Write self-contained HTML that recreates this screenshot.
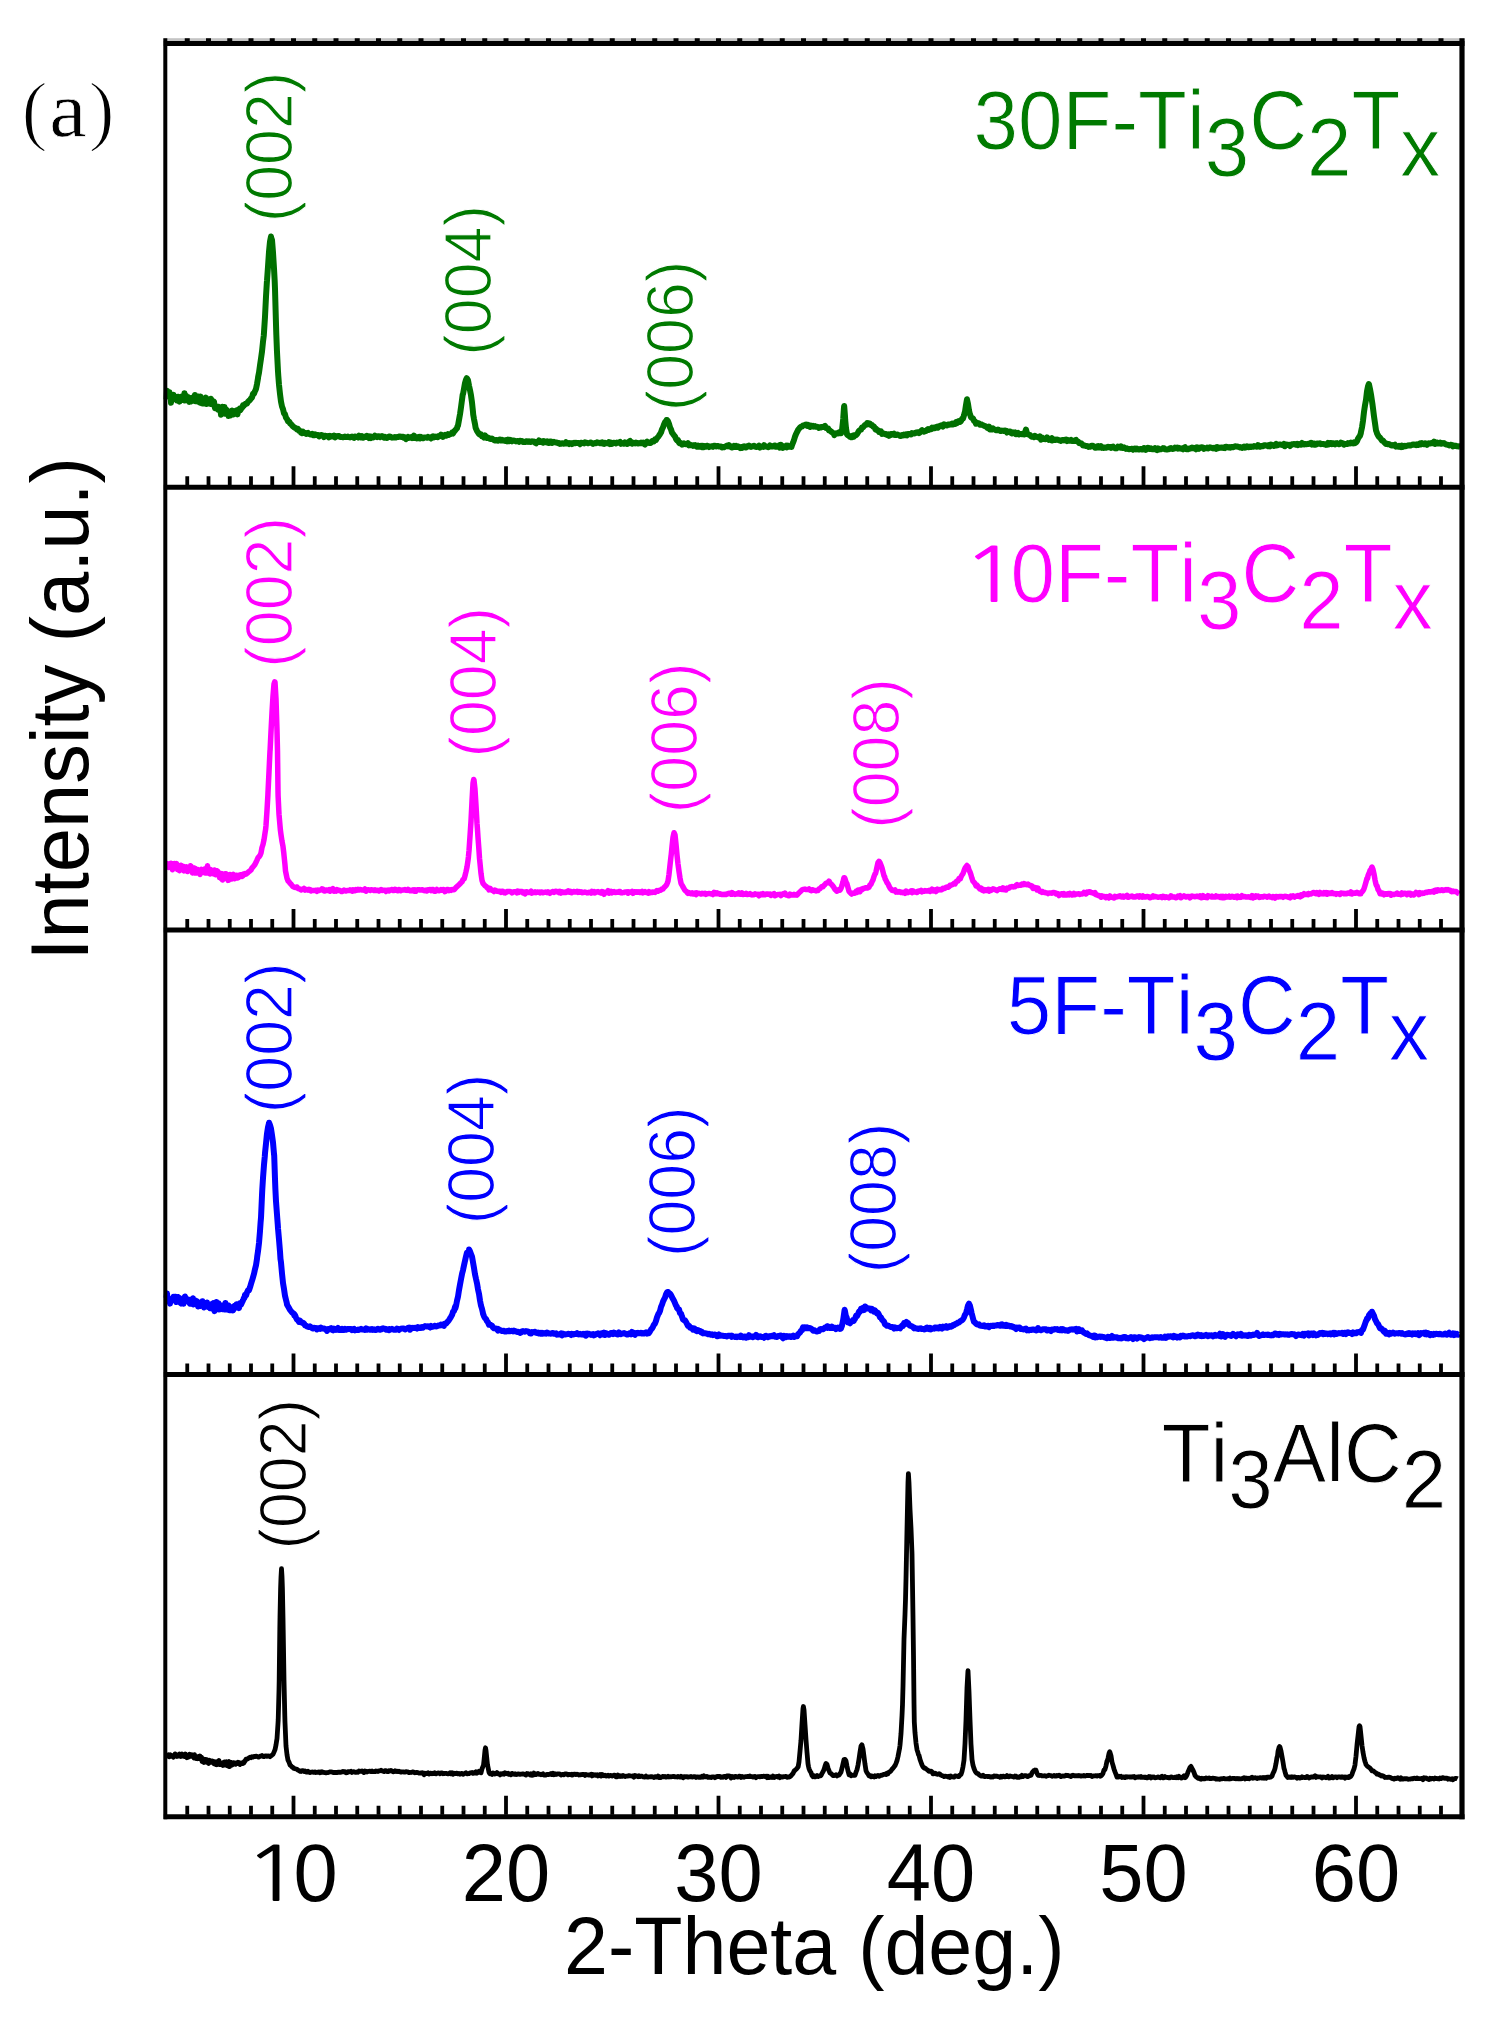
<!DOCTYPE html>
<html><head><meta charset="utf-8"><title>XRD patterns</title>
<style>html,body{margin:0;padding:0;background:#fff;}body{width:1485px;height:2021px;overflow:hidden;}svg{display:block;}text{font-kerning:none;font-feature-settings:"kern" 0;}</style>
</head><body>
<svg width="1485" height="2021" viewBox="0 0 1485 2021"><text transform="translate(243.00,1900.80) scale(1.3,1)" font-family="NanumGothic, 'Liberation Sans', sans-serif" font-size="76" fill="#000">1</text><text transform="translate(293.50,1900.80) scale(1,1.035)" font-family="'Liberation Sans', Arial, sans-serif" font-size="79.5" fill="#000">0</text><text transform="translate(506.00,1900.80) scale(1,1.035)" font-family="'Liberation Sans', Arial, sans-serif" font-size="79.5" fill="#000" text-anchor="middle">20</text><text transform="translate(718.50,1900.80) scale(1,1.035)" font-family="'Liberation Sans', Arial, sans-serif" font-size="79.5" fill="#000" text-anchor="middle">30</text><text transform="translate(931.00,1900.80) scale(1,1.035)" font-family="'Liberation Sans', Arial, sans-serif" font-size="79.5" fill="#000" text-anchor="middle">40</text><text transform="translate(1143.50,1900.80) scale(1,1.035)" font-family="'Liberation Sans', Arial, sans-serif" font-size="79.5" fill="#000" text-anchor="middle">50</text><text transform="translate(1356.00,1900.80) scale(1,1.035)" font-family="'Liberation Sans', Arial, sans-serif" font-size="79.5" fill="#000" text-anchor="middle">60</text><text transform="translate(564.00,1974.40) scale(1,1.035)" font-family="'Liberation Sans', Arial, sans-serif" font-size="79.0" fill="#000">2-Theta (deg.)</text><text transform="translate(87.60,960.60) rotate(-90) scale(1,1.035)" font-family="'Liberation Sans', Arial, sans-serif" font-size="79.5" fill="#000">Intensity (a.u.)</text><text x="21.6" y="136" font-family="'Liberation Serif', 'Times New Roman', serif" font-size="78.5" stroke="#fff" stroke-width="1.6" stroke-linejoin="round">(</text><text transform="translate(49.3,136) scale(1.07,1)" font-family="'Liberation Serif', 'Times New Roman', serif" font-size="78.5" stroke="#fff" stroke-width="0.7" stroke-linejoin="round">a</text><text x="88.5" y="136" font-family="'Liberation Serif', 'Times New Roman', serif" font-size="78.5" stroke="#fff" stroke-width="1.6" stroke-linejoin="round">)</text><text transform="translate(292.20,147.00) rotate(-90) scale(1,1.02)" font-family="'Liberation Sans', Arial, sans-serif" font-size="64.5" fill="#007a00" text-anchor="middle" stroke="#fff" stroke-width="1.2" stroke-linejoin="round">(002)</text><text transform="translate(490.70,280.40) rotate(-90) scale(1,1.02)" font-family="'Liberation Sans', Arial, sans-serif" font-size="64.5" fill="#007a00" text-anchor="middle" stroke="#fff" stroke-width="1.2" stroke-linejoin="round">(004)</text><text transform="translate(692.70,336.00) rotate(-90) scale(1,1.02)" font-family="'Liberation Sans', Arial, sans-serif" font-size="64.5" fill="#007a00" text-anchor="middle" stroke="#fff" stroke-width="1.2" stroke-linejoin="round">(006)</text><text transform="translate(291.60,592.40) rotate(-90) scale(1,1.02)" font-family="'Liberation Sans', Arial, sans-serif" font-size="64.5" fill="#ff00ff" text-anchor="middle" stroke="#fff" stroke-width="1.2" stroke-linejoin="round">(002)</text><text transform="translate(496.30,682.30) rotate(-90) scale(1,1.02)" font-family="'Liberation Sans', Arial, sans-serif" font-size="64.5" fill="#ff00ff" text-anchor="middle" stroke="#fff" stroke-width="1.2" stroke-linejoin="round">(004)</text><text transform="translate(696.70,737.90) rotate(-90) scale(1,1.02)" font-family="'Liberation Sans', Arial, sans-serif" font-size="64.5" fill="#ff00ff" text-anchor="middle" stroke="#fff" stroke-width="1.2" stroke-linejoin="round">(006)</text><text transform="translate(898.70,753.50) rotate(-90) scale(1,1.02)" font-family="'Liberation Sans', Arial, sans-serif" font-size="64.5" fill="#ff00ff" text-anchor="middle" stroke="#fff" stroke-width="1.2" stroke-linejoin="round">(008)</text><text transform="translate(291.60,1037.90) rotate(-90) scale(1,1.02)" font-family="'Liberation Sans', Arial, sans-serif" font-size="64.5" fill="#0000ff" text-anchor="middle" stroke="#fff" stroke-width="1.2" stroke-linejoin="round">(002)</text><text transform="translate(493.60,1149.00) rotate(-90) scale(1,1.02)" font-family="'Liberation Sans', Arial, sans-serif" font-size="64.5" fill="#0000ff" text-anchor="middle" stroke="#fff" stroke-width="1.2" stroke-linejoin="round">(004)</text><text transform="translate(694.60,1181.80) rotate(-90) scale(1,1.02)" font-family="'Liberation Sans', Arial, sans-serif" font-size="64.5" fill="#0000ff" text-anchor="middle" stroke="#fff" stroke-width="1.2" stroke-linejoin="round">(006)</text><text transform="translate(895.70,1198.00) rotate(-90) scale(1,1.02)" font-family="'Liberation Sans', Arial, sans-serif" font-size="64.5" fill="#0000ff" text-anchor="middle" stroke="#fff" stroke-width="1.2" stroke-linejoin="round">(008)</text><text transform="translate(306.30,1474.30) rotate(-90) scale(1,1.02)" font-family="'Liberation Sans', Arial, sans-serif" font-size="64.5" fill="#000000" text-anchor="middle" stroke="#fff" stroke-width="1.2" stroke-linejoin="round">(002)</text><text transform="translate(973.60,149.40) scale(1,1.035)" font-family="'Liberation Sans', Arial, sans-serif" font-size="80" fill="#007a00" stroke="#fff" stroke-width="0.9" stroke-linejoin="round"><tspan>30F-Ti</tspan><tspan dy="25.3">3</tspan><tspan dy="-25.3">C</tspan><tspan dy="25.3">2</tspan><tspan dy="-25.3">T</tspan><tspan dy="25.3">x</tspan></text><text transform="translate(961.10,601.60) scale(1.3,1)" font-family="NanumGothic, 'Liberation Sans', sans-serif" font-size="76" fill="#ff00ff">1</text><text transform="translate(1010.39,601.60) scale(1,1.035)" font-family="'Liberation Sans', Arial, sans-serif" font-size="80" fill="#ff00ff" stroke="#fff" stroke-width="0.9" stroke-linejoin="round"><tspan>0F-Ti</tspan><tspan dy="26.4">3</tspan><tspan dy="-26.4">C</tspan><tspan dy="26.4">2</tspan><tspan dy="-26.4">T</tspan><tspan dy="26.4">x</tspan></text><text transform="translate(1006.80,1034.00) scale(1,1.035)" font-family="'Liberation Sans', Arial, sans-serif" font-size="80" fill="#0000ff" stroke="#fff" stroke-width="0.9" stroke-linejoin="round"><tspan>5F-Ti</tspan><tspan dy="25.0">3</tspan><tspan dy="-25.0">C</tspan><tspan dy="25.0">2</tspan><tspan dy="-25.0">T</tspan><tspan dy="25.0">x</tspan></text><text transform="translate(1161.70,1481.50) scale(1,1.035)" font-family="'Liberation Sans', Arial, sans-serif" font-size="80" fill="#000000" stroke="#fff" stroke-width="0.9" stroke-linejoin="round"><tspan>Ti</tspan><tspan dy="25.6">3</tspan><tspan dy="-25.6">AlC</tspan><tspan dy="25.6">2</tspan></text><path d="M166.5,399.4 L167.0,390.7 L167.5,396.5 L168.0,394.7 L168.5,395.1 L169.0,395.6 L169.5,392.3 L170.0,395.8 L170.5,394.7 L171.0,402.7 L171.5,397.0 L172.0,395.9 L172.5,396.2 L173.0,395.5 L173.5,394.9 L174.0,396.3 L174.5,398.0 L175.0,396.7 L175.5,399.1 L176.0,397.0 L176.5,397.5 L177.0,400.5 L177.5,398.6 L178.0,396.7 L178.5,397.4 L179.0,398.9 L179.5,401.6 L180.0,397.5 L180.5,397.6 L181.0,400.0 L181.5,396.5 L182.0,397.7 L182.5,400.0 L183.0,399.5 L183.5,398.7 L184.0,399.8 L184.5,393.2 L185.0,400.6 L185.5,396.9 L186.0,395.6 L186.5,399.4 L187.0,400.3 L187.5,398.2 L188.0,397.0 L188.5,399.2 L189.0,399.1 L189.5,401.9 L190.0,400.7 L190.5,399.7 L191.0,401.5 L191.5,399.1 L192.0,397.8 L192.5,400.7 L193.0,400.7 L193.5,399.3 L194.0,398.3 L194.5,400.2 L195.0,395.1 L195.5,401.2 L196.0,400.9 L196.5,396.9 L197.0,400.2 L197.5,398.3 L198.0,401.6 L198.5,396.4 L199.0,398.6 L199.5,401.7 L200.0,402.6 L200.5,396.4 L201.0,399.6 L201.5,401.2 L202.0,399.4 L202.5,403.6 L203.0,398.4 L203.5,401.4 L204.0,398.7 L204.5,403.4 L205.0,400.7 L205.5,400.1 L206.0,397.6 L206.5,404.1 L207.0,402.3 L207.5,402.4 L208.0,403.2 L208.5,401.7 L209.0,399.9 L209.5,399.7 L210.0,399.8 L210.5,404.0 L211.0,398.7 L211.5,400.5 L212.0,401.3 L212.5,403.1 L213.0,404.6 L213.5,402.0 L214.0,401.7 L214.5,405.5 L215.0,408.2 L215.5,407.8 L216.0,407.1 L216.5,406.4 L217.0,407.9 L217.5,407.2 L218.0,409.6 L218.5,406.8 L219.0,408.9 L219.5,408.7 L220.0,410.3 L220.5,410.0 L221.0,414.7 L221.5,413.0 L222.0,413.2 L222.5,406.8 L223.0,410.2 L223.5,409.9 L224.0,412.3 L224.5,407.1 L225.0,413.7 L225.5,413.6 L226.0,409.2 L226.5,409.9 L227.0,410.3 L227.5,412.0 L228.0,413.2 L228.5,416.0 L229.0,411.7 L229.5,413.6 L230.0,412.5 L230.5,415.5 L231.0,413.6 L231.5,414.7 L232.0,410.4 L232.5,412.0 L233.0,410.9 L233.5,414.6 L234.0,413.2 L234.5,411.6 L235.0,411.3 L235.5,412.6 L236.0,410.8 L236.5,410.4 L237.0,412.1 L237.5,414.4 L238.0,410.9 L238.5,410.3 L239.0,409.3 L239.5,408.8 L240.0,410.3 L240.5,410.1 L241.0,408.7 L241.5,408.4 L242.0,407.6 L242.5,407.1 L243.0,405.3 L243.5,405.7 L244.0,405.7 L244.5,404.7 L245.0,404.5 L245.5,403.9 L246.0,403.7 L247.0,403.5 L248.0,401.8 L249.0,400.7 L250.0,400.0 L251.0,398.4 L252.0,397.5 L253.0,393.7 L254.0,393.8 L255.0,391.0 L255.5,390.1 L256.0,388.8 L257.0,384.1 L258.0,378.2 L258.1,377.1 L259.0,372.6 L260.0,365.3 L261.0,358.6 L262.0,351.5 L263.0,341.8 L263.8,335.3 L264.0,332.3 L265.0,316.9 L266.0,296.6 L266.9,281.8 L267.0,280.8 L268.0,266.7 L269.0,251.9 L270.0,241.6 L271.0,236.5 L271.1,237.5 L272.0,240.0 L273.0,252.6 L274.0,268.4 L274.7,281.4 L275.0,289.0 L276.0,324.3 L276.3,334.1 L277.0,351.9 L278.0,371.3 L278.3,375.9 L279.0,384.8 L280.0,394.0 L281.0,401.7 L282.0,406.5 L283.0,409.1 L284.0,413.4 L285.0,414.2 L286.0,417.7 L287.0,419.0 L288.0,421.2 L289.0,421.9 L289.3,421.8 L290.0,423.4 L291.0,424.0 L292.0,425.3 L293.0,426.4 L294.0,427.2 L295.0,427.9 L296.0,428.3 L297.0,429.4 L298.0,428.9 L299.0,430.7 L300.0,430.7 L301.0,432.6 L302.0,433.2 L302.8,431.5 L303.0,432.8 L304.0,433.0 L305.0,432.7 L306.0,433.9 L307.0,433.5 L308.0,432.9 L309.0,434.0 L310.0,434.3 L311.0,434.6 L312.0,433.9 L313.0,435.2 L314.0,435.3 L315.0,434.3 L316.0,434.7 L317.0,435.1 L318.0,434.9 L319.0,436.4 L320.0,435.6 L321.0,434.9 L322.0,435.1 L323.0,435.6 L324.0,437.1 L325.0,435.7 L326.0,436.0 L327.0,436.3 L328.0,436.0 L329.0,437.4 L330.0,435.8 L331.0,436.6 L332.0,436.3 L333.0,436.6 L334.0,435.6 L335.0,437.4 L336.0,436.3 L337.0,436.4 L338.0,435.9 L339.0,436.0 L340.0,436.8 L341.0,437.1 L342.0,437.0 L343.0,437.3 L344.0,437.0 L345.0,436.6 L346.0,437.1 L347.0,437.0 L348.0,436.6 L349.0,437.1 L350.0,437.4 L351.0,436.8 L352.0,436.5 L353.0,437.1 L354.0,437.9 L355.0,436.6 L356.0,436.7 L357.0,436.7 L358.0,437.5 L359.0,435.7 L360.0,437.0 L361.0,437.5 L362.0,436.3 L363.0,437.7 L364.0,437.2 L365.0,436.5 L366.0,437.0 L367.0,435.9 L368.0,436.5 L369.0,438.0 L370.0,436.4 L371.0,438.0 L372.0,436.9 L373.0,437.5 L374.0,437.0 L375.0,435.6 L376.0,436.6 L377.0,437.1 L378.0,436.3 L379.0,436.2 L380.0,437.2 L381.0,436.6 L382.0,436.0 L383.0,436.6 L384.0,437.6 L385.0,436.8 L386.0,437.6 L387.0,438.0 L388.0,437.1 L389.0,436.5 L390.0,436.4 L391.0,437.1 L392.0,437.7 L393.0,437.4 L394.0,437.5 L395.0,437.0 L396.0,437.4 L397.0,437.0 L398.0,437.1 L399.0,436.5 L400.0,436.4 L401.0,437.0 L402.0,436.7 L403.0,436.8 L404.0,437.8 L405.0,437.3 L406.0,439.1 L407.0,438.0 L408.0,437.0 L409.0,437.9 L410.0,437.7 L411.0,437.0 L412.0,438.1 L413.0,437.0 L414.0,435.6 L415.0,438.0 L416.0,437.1 L417.0,438.4 L418.0,437.1 L419.0,436.8 L420.0,438.4 L421.0,436.9 L422.0,437.6 L423.0,438.3 L424.0,437.5 L425.0,437.4 L426.0,437.4 L427.0,437.8 L428.0,436.8 L429.0,437.6 L430.0,437.5 L431.0,438.5 L432.0,436.8 L433.0,436.4 L434.0,437.3 L435.0,436.6 L436.0,436.9 L437.0,436.7 L438.0,437.2 L439.0,436.0 L440.0,436.2 L441.0,434.6 L442.0,435.5 L443.0,436.8 L444.0,435.4 L444.5,435.3 L445.0,434.9 L446.0,435.8 L447.0,435.3 L448.0,434.2 L449.0,434.9 L450.0,434.2 L451.0,434.1 L452.0,432.7 L453.0,433.5 L453.4,432.4 L454.0,431.7 L455.0,430.5 L456.0,429.3 L457.0,428.2 L457.4,426.6 L458.0,425.5 L459.0,419.9 L460.0,414.3 L461.0,407.4 L462.0,399.8 L462.7,394.5 L463.0,394.2 L464.0,388.7 L465.0,383.0 L466.0,379.7 L466.7,378.2 L467.0,378.4 L468.0,380.2 L469.0,385.6 L470.0,390.1 L471.0,395.3 L472.0,402.5 L473.0,412.0 L473.2,414.4 L474.0,419.1 L475.0,424.1 L475.6,427.7 L476.0,428.8 L477.0,430.9 L478.0,432.6 L479.0,434.0 L479.2,433.8 L480.0,434.6 L481.0,434.3 L482.0,436.3 L483.0,436.0 L484.0,437.5 L485.0,435.5 L486.0,437.5 L487.0,438.0 L488.0,437.5 L489.0,438.3 L490.0,438.8 L491.0,439.0 L492.0,438.6 L493.0,439.2 L494.0,440.1 L495.0,440.5 L496.0,440.0 L497.0,440.2 L497.9,440.3 L498.0,440.8 L499.0,439.7 L500.0,439.6 L501.0,440.5 L502.0,439.8 L503.0,440.2 L504.0,440.7 L505.0,441.0 L506.0,440.1 L507.0,441.2 L508.0,439.7 L509.0,441.2 L510.0,439.9 L511.0,440.2 L512.0,441.3 L513.0,440.7 L514.0,440.5 L515.0,440.8 L516.0,441.4 L517.0,441.1 L518.0,441.1 L519.0,441.8 L520.0,440.8 L521.0,440.9 L522.0,440.9 L523.0,442.0 L524.0,441.9 L525.0,442.1 L526.0,441.3 L527.0,441.3 L528.0,441.9 L529.0,441.2 L530.0,442.0 L531.0,442.0 L532.0,441.2 L533.0,441.6 L534.0,441.6 L535.0,442.7 L536.0,443.3 L537.0,441.7 L538.0,441.9 L539.0,440.5 L540.0,442.1 L541.0,442.0 L542.0,441.4 L543.0,442.6 L544.0,441.2 L545.0,442.1 L546.0,442.3 L547.0,441.5 L548.0,442.8 L549.0,443.0 L550.0,441.6 L551.0,441.6 L552.0,442.9 L553.0,442.5 L554.0,441.9 L555.0,442.4 L556.0,442.6 L557.0,442.6 L558.0,443.2 L559.0,443.0 L560.0,443.9 L561.0,443.7 L562.0,443.3 L563.0,443.5 L564.0,443.7 L565.0,443.4 L566.0,442.2 L567.0,443.5 L568.0,443.0 L569.0,444.0 L570.0,443.1 L571.0,443.3 L571.6,443.2 L572.0,444.0 L573.0,443.1 L574.0,442.8 L575.0,443.2 L576.0,442.7 L577.0,443.1 L578.0,443.0 L579.0,443.2 L580.0,444.2 L581.0,442.8 L582.0,443.0 L583.0,442.9 L584.0,443.4 L585.0,442.3 L586.0,442.6 L587.0,443.0 L588.0,443.3 L589.0,443.0 L590.0,442.7 L591.0,442.5 L592.0,443.3 L593.0,443.9 L594.0,443.2 L595.0,443.1 L596.0,443.3 L597.0,442.4 L598.0,442.8 L599.0,442.8 L600.0,443.2 L601.0,443.0 L602.0,442.3 L603.0,443.7 L604.0,444.0 L605.0,442.8 L606.0,443.2 L607.0,443.2 L608.0,443.5 L609.0,442.1 L610.0,444.0 L611.0,442.7 L612.0,443.8 L613.0,443.0 L614.0,442.8 L615.0,442.9 L616.0,443.5 L617.0,442.5 L618.0,442.8 L619.0,442.7 L620.0,442.0 L621.0,443.8 L622.0,443.3 L623.0,443.0 L624.0,443.7 L625.0,442.4 L626.0,443.0 L627.0,444.0 L628.0,443.6 L629.0,441.7 L630.0,441.0 L631.0,442.4 L632.0,443.6 L633.0,442.7 L634.0,442.9 L635.0,443.4 L636.0,442.5 L637.0,443.1 L638.0,443.5 L639.0,443.3 L640.0,443.2 L641.0,442.6 L642.0,443.3 L643.0,442.7 L644.0,443.8 L645.0,444.5 L646.0,442.6 L647.0,441.7 L648.0,442.7 L649.0,443.0 L650.0,443.1 L651.0,442.7 L652.0,441.2 L653.0,440.7 L654.0,441.3 L655.0,439.3 L656.0,439.9 L657.0,438.0 L658.0,437.2 L659.0,435.7 L660.0,434.1 L661.0,432.5 L662.0,429.3 L663.0,427.4 L664.0,424.4 L665.0,422.2 L666.0,421.2 L666.6,420.0 L667.0,419.9 L668.0,421.3 L669.0,423.9 L670.0,427.4 L671.0,429.3 L672.0,432.7 L673.0,433.9 L674.0,435.3 L675.0,436.4 L676.0,438.9 L677.0,440.5 L678.0,440.1 L679.0,442.6 L679.2,443.0 L680.0,442.6 L681.0,443.1 L682.0,444.6 L683.0,444.3 L684.0,443.3 L685.0,444.1 L686.0,444.2 L687.0,444.4 L688.0,443.3 L689.0,445.3 L690.0,444.6 L691.0,445.2 L692.0,445.2 L693.0,445.9 L694.0,445.3 L695.0,445.1 L696.0,446.0 L697.0,446.7 L698.0,445.7 L699.0,446.8 L700.0,446.3 L701.0,445.9 L702.0,447.2 L703.0,445.8 L704.0,447.0 L705.0,446.1 L706.0,446.7 L707.0,445.7 L708.0,446.0 L709.0,447.1 L710.0,446.6 L711.0,446.5 L712.0,446.2 L713.0,446.8 L714.0,445.7 L715.0,445.8 L716.0,446.4 L717.0,446.0 L718.0,446.1 L719.0,446.5 L720.0,446.4 L721.0,446.4 L722.0,447.5 L723.0,447.1 L724.0,447.2 L725.0,446.5 L726.0,446.2 L727.0,445.6 L728.0,446.3 L729.0,445.2 L730.0,446.1 L731.0,447.0 L732.0,447.5 L733.0,447.1 L734.0,446.0 L735.0,446.8 L736.0,446.0 L737.0,447.0 L738.0,446.4 L739.0,447.0 L740.0,448.0 L741.0,447.1 L742.0,447.9 L743.0,446.6 L744.0,446.3 L745.0,447.3 L746.0,447.5 L747.0,446.2 L748.0,446.5 L749.0,445.6 L750.0,446.4 L751.0,447.0 L752.0,446.4 L753.0,446.2 L754.0,445.7 L755.0,446.7 L756.0,447.0 L757.0,446.9 L758.0,446.7 L759.0,445.7 L760.0,447.6 L761.0,446.5 L762.0,446.4 L763.0,446.9 L764.0,445.2 L765.0,446.5 L766.0,446.4 L767.0,446.7 L768.0,447.3 L769.0,446.8 L770.0,445.4 L771.0,446.3 L772.0,446.6 L773.0,446.6 L774.0,445.7 L775.0,445.5 L776.0,446.8 L777.0,446.7 L778.0,446.5 L779.0,445.5 L780.0,447.6 L781.0,444.8 L782.0,446.3 L783.0,447.8 L784.0,446.4 L785.0,446.6 L786.0,445.8 L787.0,447.3 L788.0,445.7 L789.0,446.7 L790.0,446.6 L791.0,445.9 L791.4,447.0 L792.0,445.1 L793.0,442.7 L794.0,440.0 L795.0,436.7 L796.0,434.1 L797.0,432.2 L798.0,430.1 L799.0,428.7 L800.0,427.6 L801.0,426.7 L802.0,426.6 L803.0,425.4 L804.0,425.4 L805.0,424.9 L806.0,424.5 L807.0,425.7 L808.0,424.8 L809.0,425.7 L810.0,426.9 L811.0,425.6 L812.0,426.5 L813.0,425.8 L814.0,426.6 L815.0,426.1 L816.0,426.8 L817.0,426.7 L818.0,427.1 L819.0,428.0 L820.0,427.2 L821.0,427.4 L822.0,427.0 L823.0,426.9 L824.0,426.5 L825.0,425.9 L825.2,427.0 L826.0,428.1 L827.0,428.0 L828.0,428.3 L829.0,430.6 L830.0,430.5 L831.0,431.5 L832.0,432.2 L833.0,433.0 L834.0,433.8 L834.3,435.2 L835.0,433.9 L836.0,433.3 L837.0,433.5 L838.0,433.6 L839.0,432.5 L840.0,433.3 L841.0,433.3 L841.2,433.0 L842.0,430.3 L843.0,421.1 L843.2,419.0 L844.0,407.3 L844.2,406.0 L845.0,416.2 L845.2,420.1 L846.0,428.2 L847.0,434.3 L848.0,435.3 L849.0,435.8 L850.0,436.8 L851.0,437.2 L852.0,437.3 L852.7,436.3 L853.0,435.6 L854.0,436.5 L855.0,435.1 L856.0,435.1 L857.0,434.1 L858.0,432.5 L859.0,430.8 L860.0,430.0 L861.0,429.7 L862.0,427.4 L863.0,427.3 L864.0,426.1 L865.0,424.9 L866.0,424.9 L867.0,423.2 L867.5,424.2 L868.0,423.1 L869.0,423.4 L870.0,423.7 L871.0,425.2 L872.0,425.1 L873.0,426.5 L874.0,426.5 L875.0,428.5 L875.5,429.3 L876.0,428.6 L877.0,430.2 L878.0,430.3 L879.0,432.0 L880.0,431.5 L881.0,431.3 L882.0,433.9 L883.0,433.6 L884.0,433.6 L885.0,434.2 L886.0,433.9 L887.0,434.9 L888.0,434.4 L889.0,435.9 L890.0,435.4 L891.0,434.0 L892.0,434.1 L893.0,434.7 L894.0,433.8 L895.0,434.9 L896.0,435.0 L897.0,434.5 L898.0,434.7 L899.0,435.3 L900.0,435.9 L901.0,435.9 L902.0,435.0 L903.0,435.5 L904.0,434.5 L905.0,435.2 L906.0,434.3 L907.0,435.2 L908.0,433.9 L909.0,433.9 L910.0,434.3 L911.0,434.4 L912.0,433.0 L913.0,433.3 L914.0,433.5 L915.0,433.3 L916.0,432.4 L917.0,432.7 L918.0,432.3 L919.0,433.1 L920.0,432.3 L921.0,431.0 L922.0,430.2 L923.0,431.3 L924.0,431.7 L925.0,430.8 L926.0,430.9 L927.0,429.8 L928.0,429.0 L929.0,429.9 L930.0,429.2 L931.0,429.3 L932.0,427.7 L933.0,428.4 L934.0,427.6 L935.0,428.1 L936.0,427.0 L937.0,426.7 L937.4,426.6 L938.0,427.6 L939.0,426.6 L940.0,425.9 L941.0,425.5 L942.0,425.3 L943.0,426.5 L944.0,424.3 L945.0,424.7 L946.0,425.3 L947.0,425.4 L948.0,424.4 L949.0,424.7 L950.0,424.5 L951.0,424.4 L952.0,423.6 L953.0,424.4 L954.0,423.3 L955.0,423.9 L956.0,422.1 L957.0,423.1 L958.0,421.5 L959.0,421.0 L960.0,421.8 L960.3,420.8 L961.0,421.1 L962.0,418.9 L963.0,418.6 L964.0,415.4 L964.5,413.3 L965.0,411.8 L966.0,405.0 L967.0,399.2 L967.1,399.9 L968.0,404.0 L969.0,410.4 L969.8,414.0 L970.0,414.2 L971.0,417.3 L972.0,418.0 L973.0,418.5 L974.0,420.9 L975.0,421.4 L976.0,423.7 L977.0,423.2 L978.0,423.0 L979.0,423.3 L980.0,424.7 L981.0,424.2 L982.0,424.7 L983.0,425.3 L984.0,425.7 L985.0,426.1 L986.0,426.5 L987.0,427.6 L988.0,428.2 L989.0,426.6 L990.0,429.5 L991.0,428.4 L992.0,429.4 L993.0,428.5 L994.0,429.4 L994.6,429.5 L995.0,429.5 L996.0,430.2 L997.0,430.3 L998.0,429.5 L999.0,430.2 L1000.0,430.9 L1001.0,431.0 L1002.0,430.6 L1003.0,430.8 L1004.0,431.0 L1005.0,430.6 L1006.0,430.7 L1007.0,432.5 L1008.0,431.5 L1009.0,431.9 L1010.0,431.6 L1011.0,433.0 L1012.0,433.4 L1013.0,432.4 L1014.0,433.1 L1015.0,432.5 L1016.0,434.2 L1017.0,433.8 L1018.0,433.0 L1019.0,434.4 L1020.0,434.0 L1021.0,434.1 L1022.0,434.2 L1023.0,433.6 L1024.0,433.7 L1024.4,434.4 L1025.0,432.7 L1026.0,429.5 L1027.0,433.4 L1028.0,434.4 L1029.0,434.7 L1030.0,435.1 L1031.0,436.2 L1032.0,436.7 L1033.0,436.5 L1034.0,437.1 L1035.0,435.8 L1036.0,436.7 L1037.0,436.7 L1038.0,437.2 L1039.0,437.6 L1040.0,436.3 L1041.0,439.6 L1042.0,437.5 L1043.0,438.4 L1044.0,438.9 L1045.0,439.2 L1046.0,439.0 L1047.0,437.3 L1048.0,438.6 L1049.0,439.9 L1050.0,439.0 L1051.0,439.0 L1051.8,438.3 L1052.0,440.5 L1053.0,440.1 L1054.0,439.3 L1055.0,439.9 L1056.0,439.9 L1057.0,439.4 L1058.0,439.9 L1059.0,440.3 L1060.0,440.5 L1061.0,440.9 L1062.0,440.2 L1063.0,439.9 L1064.0,440.5 L1065.0,439.9 L1066.0,439.5 L1067.0,441.0 L1068.0,440.1 L1069.0,440.5 L1070.0,440.8 L1071.0,439.9 L1072.0,441.0 L1073.0,440.9 L1074.0,440.7 L1074.7,441.0 L1075.0,440.4 L1076.0,439.8 L1077.0,441.3 L1078.0,441.4 L1079.0,443.0 L1080.0,443.2 L1081.0,443.2 L1082.0,444.0 L1083.0,445.3 L1084.0,445.6 L1085.0,445.6 L1086.0,446.1 L1087.0,446.0 L1088.0,446.4 L1088.5,446.9 L1089.0,446.5 L1090.0,446.8 L1091.0,446.0 L1092.0,445.8 L1093.0,445.8 L1094.0,446.6 L1095.0,447.7 L1096.0,447.7 L1097.0,446.4 L1098.0,446.1 L1099.0,447.6 L1100.0,447.4 L1101.0,446.3 L1102.0,447.8 L1103.0,447.3 L1104.0,448.0 L1105.0,447.4 L1106.0,447.8 L1107.0,447.5 L1108.0,446.7 L1109.0,447.2 L1110.0,446.9 L1111.0,447.9 L1112.0,446.8 L1113.0,446.5 L1114.0,447.8 L1115.0,448.2 L1116.0,448.4 L1117.0,448.2 L1118.0,446.7 L1119.0,447.2 L1120.0,447.4 L1120.5,447.7 L1121.0,446.4 L1122.0,447.8 L1123.0,448.1 L1124.0,447.4 L1125.0,448.2 L1126.0,449.0 L1127.0,448.4 L1128.0,449.1 L1129.0,449.2 L1130.0,449.0 L1131.0,449.0 L1132.0,448.7 L1133.0,449.7 L1134.0,448.7 L1135.0,448.6 L1136.0,449.4 L1137.0,448.6 L1138.0,449.3 L1139.0,449.6 L1140.0,449.0 L1141.0,449.1 L1142.0,449.5 L1143.0,449.4 L1144.0,448.1 L1145.0,448.2 L1146.0,449.8 L1147.0,449.2 L1148.0,447.7 L1149.0,448.1 L1150.0,449.0 L1151.0,448.4 L1152.0,449.2 L1153.0,449.0 L1154.0,449.2 L1155.0,448.2 L1156.0,449.3 L1157.0,450.1 L1158.0,448.4 L1159.0,449.6 L1160.0,449.4 L1161.0,449.2 L1162.0,448.8 L1163.0,448.1 L1164.0,448.3 L1165.0,449.2 L1166.0,449.4 L1167.0,449.5 L1168.0,449.3 L1169.0,449.3 L1170.0,448.4 L1171.0,448.0 L1172.0,448.8 L1173.0,449.0 L1174.0,448.7 L1175.0,447.7 L1176.0,448.3 L1177.0,447.7 L1178.0,448.7 L1179.0,447.9 L1180.0,448.4 L1181.0,448.7 L1182.0,448.6 L1183.0,449.3 L1184.0,447.8 L1185.0,447.1 L1186.0,449.0 L1187.0,449.2 L1188.0,449.2 L1189.0,448.5 L1190.0,448.7 L1191.0,448.4 L1192.0,447.5 L1193.0,447.9 L1194.0,448.5 L1195.0,447.9 L1196.0,449.3 L1197.0,447.3 L1198.0,447.9 L1199.0,448.8 L1200.0,447.7 L1201.0,447.4 L1202.0,447.2 L1203.0,447.6 L1204.0,448.9 L1205.0,448.2 L1206.0,448.3 L1207.0,447.6 L1208.0,448.4 L1209.0,448.0 L1210.0,447.3 L1211.0,447.6 L1212.0,447.9 L1213.0,448.5 L1214.0,447.7 L1215.0,448.1 L1216.0,448.9 L1216.6,447.2 L1217.0,447.0 L1218.0,448.3 L1219.0,447.9 L1220.0,447.6 L1221.0,447.8 L1222.0,447.4 L1223.0,447.9 L1224.0,447.3 L1225.0,448.0 L1226.0,446.7 L1227.0,446.9 L1228.0,447.4 L1229.0,447.1 L1230.0,447.7 L1231.0,447.2 L1232.0,446.9 L1233.0,447.3 L1234.0,446.8 L1235.0,446.2 L1236.0,446.4 L1237.0,446.5 L1238.0,446.7 L1239.0,447.0 L1240.0,447.4 L1241.0,447.2 L1242.0,447.9 L1243.0,447.5 L1244.0,446.6 L1245.0,447.7 L1246.0,447.4 L1247.0,446.3 L1248.0,446.7 L1249.0,447.2 L1250.0,446.6 L1251.0,447.0 L1252.0,446.6 L1253.0,446.8 L1254.0,446.1 L1255.0,446.5 L1256.0,446.0 L1257.0,446.6 L1258.0,445.1 L1259.0,446.3 L1260.0,446.8 L1261.0,446.3 L1262.0,445.9 L1263.0,446.2 L1264.0,445.3 L1265.0,445.3 L1266.0,445.5 L1267.0,445.6 L1268.0,446.2 L1269.0,445.1 L1270.0,446.2 L1271.0,444.6 L1272.0,445.0 L1273.0,445.4 L1274.0,446.0 L1275.0,444.9 L1276.0,444.0 L1277.0,445.4 L1278.0,445.1 L1279.0,444.4 L1280.0,444.4 L1281.0,444.6 L1282.0,445.0 L1283.0,445.3 L1284.0,444.0 L1285.0,446.2 L1286.0,444.7 L1287.0,444.5 L1288.0,445.1 L1289.0,444.7 L1290.0,446.0 L1291.0,445.2 L1292.0,444.3 L1293.0,444.2 L1294.0,444.1 L1295.0,444.2 L1296.0,444.7 L1297.0,443.9 L1298.0,445.2 L1299.0,444.2 L1300.0,444.1 L1301.0,444.7 L1302.0,443.0 L1303.0,443.6 L1304.0,444.5 L1305.0,444.1 L1306.0,444.0 L1307.0,444.3 L1308.0,443.7 L1309.0,443.9 L1310.0,443.2 L1311.0,442.8 L1312.0,444.7 L1313.0,443.4 L1314.0,443.5 L1315.0,444.8 L1316.0,444.6 L1317.0,443.6 L1318.0,443.6 L1319.0,443.8 L1320.0,443.3 L1321.0,444.2 L1322.0,443.9 L1323.0,443.9 L1324.0,444.3 L1325.0,444.3 L1326.0,444.9 L1327.0,444.7 L1328.0,442.8 L1329.0,444.3 L1330.0,443.1 L1331.0,442.9 L1332.0,444.2 L1333.0,443.3 L1334.0,443.5 L1335.0,444.3 L1336.0,443.3 L1337.0,443.1 L1338.0,443.8 L1339.0,444.3 L1340.0,443.9 L1341.0,442.6 L1342.0,443.1 L1343.0,443.4 L1344.0,444.6 L1345.0,444.0 L1346.0,443.9 L1347.0,444.1 L1348.0,443.1 L1349.0,443.6 L1350.0,443.5 L1351.0,442.6 L1352.0,443.1 L1353.0,443.4 L1354.0,442.4 L1355.0,443.2 L1356.0,442.4 L1357.0,441.3 L1358.0,438.6 L1359.0,437.1 L1360.0,435.7 L1360.8,433.3 L1361.0,431.8 L1362.0,427.3 L1363.0,420.7 L1364.0,411.9 L1365.0,405.3 L1366.0,399.9 L1367.0,391.4 L1368.0,386.2 L1368.8,384.1 L1369.0,384.4 L1370.0,389.1 L1371.0,394.5 L1372.0,401.1 L1372.5,404.5 L1373.0,408.3 L1374.0,416.4 L1375.0,423.3 L1376.0,430.4 L1376.8,432.5 L1377.0,433.4 L1378.0,435.3 L1379.0,436.9 L1380.0,437.7 L1381.0,439.1 L1382.0,440.6 L1383.0,440.4 L1384.0,442.1 L1385.0,443.0 L1386.0,443.9 L1387.0,443.7 L1388.0,444.0 L1388.3,444.3 L1389.0,444.0 L1390.0,444.6 L1391.0,445.3 L1392.0,445.5 L1393.0,445.0 L1394.0,445.6 L1395.0,444.8 L1396.0,446.7 L1397.0,446.0 L1398.0,446.6 L1399.0,445.8 L1399.7,446.4 L1400.0,446.8 L1401.0,447.1 L1402.0,445.6 L1403.0,446.9 L1404.0,446.2 L1405.0,445.7 L1406.0,446.3 L1407.0,445.7 L1408.0,445.6 L1409.0,445.2 L1410.0,445.6 L1411.0,445.3 L1412.0,445.0 L1413.0,444.4 L1414.0,444.5 L1415.0,444.9 L1416.0,445.2 L1417.0,444.3 L1418.0,445.0 L1419.0,444.1 L1420.0,443.3 L1421.0,444.3 L1422.0,443.2 L1423.0,443.9 L1424.0,444.3 L1425.0,443.3 L1426.0,443.4 L1427.0,444.8 L1428.0,443.4 L1429.0,443.3 L1430.0,443.6 L1431.0,443.0 L1432.0,443.0 L1433.0,443.2 L1434.0,441.6 L1435.0,443.9 L1436.0,442.4 L1437.0,442.5 L1438.0,443.5 L1439.0,443.3 L1440.0,442.7 L1441.0,443.7 L1442.0,443.0 L1443.0,443.5 L1444.0,443.1 L1445.0,443.7 L1446.0,444.6 L1447.0,444.6 L1448.0,444.9 L1449.0,445.4 L1450.0,445.0 L1451.0,444.7 L1452.0,445.1 L1453.0,446.4 L1454.0,445.6 L1455.0,445.9 L1456.0,445.8 L1457.0,446.2 L1458.0,446.4 L1459.0,446.3 L1460.0,446.4" fill="none" stroke="#007000" stroke-width="6.0" stroke-linejoin="round"/><path d="M166.5,863.4 L167.0,863.4 L167.5,866.0 L168.0,866.8 L168.5,867.3 L169.0,865.7 L169.5,864.1 L170.0,867.1 L170.5,867.2 L171.0,863.2 L171.5,867.8 L172.0,867.5 L172.5,869.7 L173.0,864.4 L173.5,864.2 L174.0,868.3 L174.5,863.4 L175.0,865.6 L175.5,865.0 L176.0,865.2 L176.5,863.6 L177.0,867.0 L177.5,869.4 L178.0,868.5 L178.5,868.6 L179.0,867.1 L179.5,870.7 L180.0,869.0 L180.5,870.1 L181.0,865.2 L181.5,868.9 L182.0,866.1 L182.5,869.1 L182.9,868.9 L183.0,866.3 L183.5,868.9 L184.0,870.9 L184.5,869.7 L185.0,869.9 L185.5,867.2 L186.0,867.6 L186.5,866.8 L187.0,869.3 L187.5,871.5 L188.0,870.1 L188.5,869.3 L189.0,867.2 L189.5,870.3 L190.0,869.0 L190.5,865.8 L191.0,866.2 L191.5,869.0 L192.0,868.0 L192.5,873.0 L193.0,869.9 L193.5,867.9 L194.0,869.0 L194.5,873.1 L195.0,868.2 L195.5,871.6 L196.0,871.0 L196.5,873.0 L197.0,871.3 L197.5,869.5 L198.0,871.4 L198.5,870.5 L199.0,872.3 L199.5,870.3 L200.0,874.4 L200.5,870.4 L201.0,871.4 L201.5,869.4 L202.0,870.9 L202.5,870.7 L203.0,871.0 L203.5,872.5 L204.0,869.7 L204.5,869.1 L205.0,872.9 L205.5,870.3 L206.0,869.5 L206.5,873.1 L207.0,872.4 L207.5,865.7 L208.0,870.2 L208.5,872.4 L209.0,872.5 L209.5,870.0 L210.0,874.0 L210.5,869.5 L211.0,870.6 L211.5,871.3 L212.0,871.1 L212.5,872.7 L213.0,873.1 L213.5,871.1 L214.0,874.0 L214.5,870.0 L215.0,870.9 L215.5,874.7 L216.0,871.7 L216.5,873.6 L217.0,870.8 L217.5,871.2 L217.8,871.5 L218.0,872.2 L218.5,872.3 L219.0,874.2 L219.2,875.9 L219.5,877.4 L220.0,876.1 L220.5,877.8 L221.0,878.5 L221.5,874.7 L222.0,873.7 L222.5,879.9 L223.0,879.3 L223.5,876.9 L224.0,877.4 L224.5,874.9 L225.0,874.0 L225.5,877.3 L226.0,873.8 L226.5,878.5 L227.0,875.4 L227.5,877.2 L228.0,880.4 L228.5,880.3 L229.0,876.1 L229.5,878.7 L230.0,874.6 L230.5,875.5 L231.0,877.2 L231.5,879.0 L232.0,875.5 L232.5,877.4 L233.0,876.6 L233.5,874.4 L234.0,876.2 L234.5,878.7 L235.0,876.2 L235.5,877.0 L236.0,877.4 L236.5,875.2 L237.0,877.8 L237.5,878.0 L238.0,877.9 L238.5,877.5 L239.0,875.4 L239.5,875.2 L240.0,874.9 L240.5,874.7 L241.0,874.8 L241.5,876.3 L242.0,876.5 L242.5,874.7 L243.0,875.7 L243.5,874.1 L244.0,874.6 L244.5,874.1 L245.0,873.6 L245.5,874.3 L246.0,874.1 L247.0,873.3 L248.0,872.5 L249.0,871.4 L249.5,871.4 L250.0,870.7 L251.0,870.0 L252.0,867.8 L253.0,867.0 L254.0,865.6 L254.8,864.7 L255.0,864.3 L256.0,862.2 L257.0,860.1 L258.0,857.8 L259.0,856.8 L260.0,855.4 L261.0,852.9 L262.0,847.5 L263.0,844.5 L264.0,839.8 L265.0,833.2 L265.6,829.4 L266.0,825.4 L267.0,810.5 L267.9,795.0 L268.0,792.4 L269.0,771.8 L270.0,750.9 L270.1,750.1 L271.0,731.7 L272.0,712.7 L273.0,696.0 L274.0,684.1 L274.7,681.9 L275.0,682.1 L276.0,698.8 L277.0,730.4 L277.5,750.8 L278.0,790.6 L278.1,795.8 L279.0,814.2 L280.0,825.7 L280.4,830.2 L281.0,834.6 L282.0,841.3 L283.0,846.6 L283.8,853.2 L284.0,855.2 L285.0,865.0 L285.5,871.0 L286.0,873.4 L287.0,878.3 L287.5,879.4 L288.0,881.0 L289.0,881.7 L290.0,883.2 L291.0,884.1 L292.0,885.5 L293.0,886.6 L294.0,887.1 L295.0,887.4 L296.0,887.3 L297.0,887.0 L298.0,888.5 L299.0,888.7 L300.0,889.1 L301.0,889.9 L302.0,889.2 L303.0,889.4 L304.0,888.4 L305.0,890.1 L306.0,889.8 L307.0,889.4 L308.0,890.1 L309.0,889.3 L310.0,889.6 L311.0,891.0 L312.0,890.4 L313.0,890.5 L314.0,890.4 L315.0,890.4 L316.0,890.2 L317.0,891.3 L318.0,890.1 L319.0,890.5 L320.0,890.0 L321.0,889.9 L322.0,888.8 L323.0,889.1 L324.0,891.0 L325.0,891.0 L326.0,889.9 L327.0,890.2 L328.0,890.5 L329.0,889.7 L330.0,891.2 L331.0,889.6 L332.0,889.8 L333.0,888.7 L334.0,891.1 L335.0,890.3 L336.0,891.1 L337.0,889.7 L338.0,890.4 L339.0,890.3 L340.0,890.4 L341.0,891.4 L342.0,891.5 L343.0,891.0 L344.0,890.1 L345.0,890.8 L346.0,891.0 L347.0,890.6 L348.0,890.6 L349.0,890.6 L350.0,889.8 L351.0,890.4 L352.0,891.2 L353.0,889.8 L354.0,890.3 L355.0,890.8 L356.0,889.6 L357.0,890.2 L358.0,889.4 L359.0,890.0 L360.0,889.5 L361.0,889.8 L362.0,890.0 L363.0,890.1 L364.0,890.2 L365.0,889.0 L366.0,891.2 L367.0,890.1 L368.0,889.7 L369.0,889.9 L370.0,890.4 L371.0,889.7 L372.0,890.0 L373.0,890.0 L374.0,890.5 L375.0,889.8 L376.0,890.5 L377.0,890.4 L378.0,890.2 L379.0,890.9 L380.0,890.2 L381.0,889.6 L382.0,890.4 L383.0,890.3 L384.0,890.2 L385.0,890.3 L386.0,891.5 L387.0,890.3 L388.0,890.5 L388.9,890.1 L389.0,890.9 L390.0,890.2 L391.0,889.8 L392.0,889.5 L393.0,890.5 L394.0,890.6 L395.0,889.3 L396.0,889.8 L397.0,890.6 L398.0,890.8 L399.0,889.5 L400.0,890.0 L401.0,890.7 L402.0,889.9 L403.0,890.0 L404.0,889.9 L405.0,889.5 L406.0,890.2 L407.0,890.4 L408.0,889.4 L409.0,890.3 L410.0,890.8 L411.0,890.3 L412.0,890.7 L413.0,889.9 L414.0,891.0 L415.0,889.8 L416.0,891.2 L417.0,890.0 L418.0,889.8 L419.0,889.7 L420.0,890.0 L421.0,889.9 L422.0,889.8 L423.0,890.0 L424.0,890.6 L425.0,890.7 L426.0,890.0 L427.0,890.9 L428.0,889.7 L429.0,889.7 L430.0,889.6 L431.0,890.6 L432.0,889.4 L433.0,889.5 L434.0,891.0 L435.0,891.3 L436.0,891.1 L437.0,889.5 L438.0,890.4 L439.0,890.8 L440.0,890.4 L441.0,889.5 L442.0,890.2 L443.0,889.5 L444.0,889.7 L445.0,891.6 L446.0,890.8 L447.0,889.6 L448.0,889.6 L449.0,890.6 L450.0,889.9 L451.0,890.4 L452.0,889.6 L453.0,889.7 L454.0,889.7 L455.0,888.7 L456.0,887.5 L457.0,886.7 L458.0,885.6 L459.0,884.8 L460.0,883.8 L461.0,882.7 L462.0,881.8 L463.0,879.5 L464.0,878.9 L464.2,878.8 L465.0,875.7 L466.0,871.7 L467.0,867.1 L468.0,860.3 L468.4,857.1 L469.0,850.8 L470.0,836.3 L470.5,828.6 L471.0,821.3 L472.0,801.4 L473.0,783.3 L473.7,779.5 L474.0,780.2 L475.0,789.4 L476.0,805.7 L477.0,823.2 L477.4,828.2 L478.0,837.4 L479.0,850.8 L479.5,858.2 L480.0,863.3 L481.0,873.4 L481.6,877.7 L482.0,880.3 L483.0,883.4 L484.0,884.6 L485.0,885.8 L486.0,886.2 L487.0,887.6 L487.8,888.2 L488.0,888.0 L489.0,889.8 L490.0,888.3 L491.0,889.6 L492.0,890.3 L493.0,890.6 L494.0,891.5 L495.0,890.0 L496.0,890.6 L497.0,891.2 L498.0,891.4 L499.0,891.3 L500.0,891.2 L501.0,892.3 L502.0,891.2 L503.0,891.5 L504.0,892.7 L505.0,892.9 L506.0,892.5 L507.0,891.5 L508.0,891.6 L509.0,891.6 L510.0,891.5 L511.0,891.9 L512.0,892.9 L513.0,892.3 L514.0,891.8 L515.0,891.8 L516.0,891.6 L517.0,892.9 L518.0,891.2 L519.0,892.4 L520.0,891.5 L521.0,891.7 L522.0,891.5 L523.0,892.8 L524.0,892.2 L525.0,893.8 L526.0,891.7 L527.0,891.7 L528.0,892.6 L529.0,892.6 L530.0,892.1 L531.0,891.2 L532.0,893.1 L533.0,892.6 L534.0,892.5 L535.0,891.9 L536.0,892.6 L537.0,891.9 L538.0,892.3 L539.0,892.1 L540.0,892.9 L541.0,892.0 L542.0,892.0 L543.0,892.8 L544.0,892.4 L545.0,892.2 L546.0,892.1 L547.0,892.7 L548.0,891.9 L549.0,892.5 L550.0,893.3 L551.0,892.4 L552.0,891.8 L553.0,891.5 L554.0,892.3 L555.0,891.5 L556.0,891.3 L557.0,891.8 L558.0,891.6 L559.0,892.7 L560.0,891.4 L561.0,893.0 L562.0,891.8 L563.0,892.2 L564.0,892.5 L565.0,892.3 L566.0,892.6 L567.0,891.6 L568.0,890.9 L569.0,892.1 L570.0,891.2 L571.0,891.8 L571.6,892.7 L572.0,892.1 L573.0,891.8 L574.0,891.5 L575.0,892.0 L576.0,892.1 L577.0,891.3 L578.0,892.3 L579.0,891.6 L580.0,892.3 L581.0,891.9 L582.0,892.7 L583.0,892.6 L584.0,892.2 L585.0,892.1 L586.0,892.4 L587.0,892.9 L588.0,892.7 L589.0,892.2 L590.0,892.3 L591.0,893.0 L592.0,891.3 L593.0,892.5 L594.0,891.7 L595.0,892.9 L596.0,891.9 L597.0,892.1 L598.0,891.6 L599.0,892.2 L600.0,892.6 L601.0,893.1 L602.0,891.5 L603.0,891.9 L604.0,894.3 L605.0,892.7 L606.0,892.2 L607.0,892.5 L608.0,890.7 L609.0,893.1 L610.0,892.3 L611.0,891.4 L612.0,892.8 L613.0,891.8 L614.0,891.6 L615.0,892.5 L616.0,892.4 L617.0,891.9 L618.0,892.2 L619.0,891.5 L620.0,891.4 L621.0,892.7 L622.0,892.9 L623.0,892.4 L624.0,892.4 L625.0,892.0 L626.0,892.1 L627.0,891.7 L628.0,893.2 L629.0,891.9 L630.0,892.4 L631.0,892.2 L632.0,891.4 L633.0,893.3 L634.0,892.0 L635.0,891.8 L636.0,892.3 L637.0,891.7 L638.0,892.2 L639.0,891.7 L640.0,892.5 L641.0,892.2 L642.0,891.4 L643.0,892.8 L644.0,892.3 L645.0,891.6 L646.0,892.4 L647.0,892.4 L648.0,893.2 L649.0,891.7 L650.0,892.7 L651.0,892.2 L652.0,892.5 L653.0,892.1 L654.0,892.2 L655.0,892.4 L656.0,891.3 L657.0,890.5 L658.0,891.2 L659.0,890.5 L660.0,890.3 L661.0,890.0 L662.0,888.9 L663.0,889.0 L664.0,887.5 L665.0,886.6 L666.0,885.6 L667.0,883.8 L667.7,882.0 L668.0,881.1 L669.0,874.3 L670.0,865.1 L671.0,856.2 L671.2,855.0 L672.0,846.7 L673.0,837.4 L674.0,832.7 L674.1,832.8 L675.0,834.9 L676.0,844.3 L677.0,854.9 L678.0,864.1 L679.0,871.3 L680.0,878.0 L681.0,883.3 L681.5,884.3 L682.0,885.0 L683.0,887.0 L684.0,888.7 L685.0,890.5 L686.0,891.1 L687.0,892.3 L688.0,893.4 L689.0,892.6 L690.0,893.2 L690.6,893.7 L691.0,893.5 L692.0,892.9 L693.0,894.0 L694.0,893.5 L695.0,893.0 L696.0,894.6 L697.0,892.9 L698.0,893.6 L699.0,893.3 L700.0,893.7 L701.0,894.0 L702.0,893.2 L703.0,893.7 L704.0,893.7 L705.0,893.2 L706.0,894.4 L707.0,893.9 L708.0,893.6 L709.0,893.4 L710.0,893.6 L711.0,893.9 L712.0,893.6 L713.0,894.5 L714.0,892.4 L715.0,892.7 L716.0,893.7 L717.0,892.8 L718.0,893.8 L719.0,893.5 L720.0,894.2 L721.0,894.1 L722.0,894.6 L723.0,894.4 L724.0,894.6 L725.0,894.2 L726.0,894.5 L727.0,894.2 L728.0,893.6 L729.0,893.2 L730.0,893.3 L731.0,894.2 L732.0,892.6 L733.0,894.1 L734.0,893.6 L735.0,894.4 L736.0,894.1 L737.0,893.6 L738.0,894.0 L739.0,892.8 L740.0,894.2 L741.0,894.3 L742.0,893.0 L743.0,894.5 L744.0,894.0 L745.0,894.2 L746.0,893.3 L747.0,894.4 L748.0,894.4 L749.0,894.1 L750.0,893.6 L751.0,894.6 L752.0,894.9 L753.0,894.4 L754.0,894.7 L755.0,893.9 L756.0,894.3 L757.0,894.4 L758.0,894.3 L759.0,895.8 L760.0,894.5 L761.0,894.0 L762.0,894.7 L763.0,893.7 L764.0,894.5 L765.0,894.8 L766.0,894.1 L767.0,894.2 L768.0,893.9 L769.0,894.5 L770.0,894.0 L771.0,895.4 L772.0,894.8 L773.0,894.3 L774.0,893.7 L775.0,895.6 L776.0,895.2 L777.0,894.7 L778.0,894.6 L779.0,894.6 L780.0,894.2 L781.0,895.5 L782.0,894.6 L783.0,893.7 L784.0,894.2 L785.0,893.1 L786.0,894.9 L787.0,895.0 L788.0,895.5 L789.0,895.7 L790.0,894.1 L791.0,894.8 L792.0,895.1 L793.0,895.0 L794.0,894.3 L795.0,895.0 L796.0,894.8 L797.0,895.1 L798.0,893.8 L799.0,892.9 L800.0,891.9 L801.0,891.0 L802.0,889.9 L803.0,889.4 L804.0,889.3 L805.0,889.1 L806.0,889.6 L807.0,889.6 L808.0,889.6 L809.0,888.9 L810.0,890.1 L811.0,890.7 L812.0,889.7 L813.0,890.0 L814.0,890.3 L815.0,890.4 L816.0,890.9 L817.0,890.3 L818.0,890.5 L819.0,888.9 L820.0,888.6 L821.0,887.5 L822.0,886.5 L823.0,886.8 L824.0,885.3 L825.0,884.5 L826.0,883.1 L827.0,882.9 L828.0,882.5 L828.6,881.9 L829.0,881.1 L830.0,883.1 L831.0,884.0 L832.0,884.9 L833.0,886.2 L834.0,887.6 L835.0,889.5 L836.0,890.2 L836.6,891.0 L837.0,891.2 L838.0,890.3 L839.0,889.5 L840.0,890.1 L841.0,888.4 L842.0,885.5 L843.0,881.8 L844.0,877.7 L844.6,877.7 L845.0,878.7 L846.0,882.1 L847.0,883.9 L848.0,887.6 L849.0,891.2 L850.0,892.4 L851.0,893.5 L851.5,894.1 L852.0,893.3 L853.0,893.1 L854.0,893.3 L855.0,893.0 L856.0,891.4 L857.0,892.3 L858.0,890.0 L859.0,890.1 L860.0,891.7 L861.0,889.4 L862.0,889.7 L863.0,888.5 L864.0,888.5 L865.0,888.0 L866.0,887.8 L867.0,887.9 L868.0,887.9 L868.7,887.0 L869.0,887.2 L870.0,884.9 L871.0,884.3 L872.0,881.8 L873.0,879.9 L874.0,876.5 L875.0,874.0 L875.5,873.6 L876.0,871.6 L877.0,867.1 L878.0,862.7 L879.0,861.3 L880.0,862.6 L881.0,865.3 L882.0,868.0 L883.0,871.9 L884.0,875.8 L884.7,876.8 L885.0,878.6 L886.0,880.4 L887.0,882.7 L888.0,883.7 L889.0,886.1 L890.0,888.0 L891.0,889.3 L891.6,889.4 L892.0,890.4 L893.0,890.6 L894.0,890.7 L895.0,890.0 L896.0,892.1 L897.0,891.4 L898.0,892.1 L899.0,891.5 L900.0,892.0 L901.0,892.5 L902.0,892.3 L903.0,892.7 L904.0,892.1 L905.0,893.3 L906.0,891.1 L907.0,891.8 L908.0,892.6 L909.0,891.9 L910.0,891.8 L911.0,891.0 L912.0,892.6 L913.0,890.8 L914.0,892.1 L915.0,891.9 L916.0,892.2 L917.0,892.5 L918.0,891.2 L919.0,891.1 L920.0,891.3 L921.0,890.5 L922.0,891.8 L923.0,891.1 L924.0,891.3 L925.0,890.6 L926.0,891.1 L927.0,890.7 L928.0,890.9 L929.0,890.3 L930.0,891.4 L931.0,890.4 L932.0,889.2 L933.0,890.9 L934.0,890.2 L935.0,889.8 L936.0,891.5 L937.0,890.0 L937.4,889.2 L938.0,889.5 L939.0,889.9 L940.0,889.4 L941.0,889.9 L942.0,889.6 L943.0,888.3 L944.0,888.4 L945.0,888.4 L946.0,887.4 L947.0,887.0 L948.0,887.3 L949.0,886.7 L950.0,885.2 L951.0,885.2 L952.0,884.8 L953.0,884.4 L954.0,883.4 L955.0,883.9 L956.0,881.9 L957.0,881.0 L958.0,880.9 L959.0,878.6 L960.0,878.2 L960.3,878.8 L961.0,876.8 L962.0,875.0 L963.0,873.6 L964.0,870.8 L965.0,868.3 L966.0,866.7 L967.0,865.5 L967.1,866.1 L968.0,866.5 L969.0,870.0 L970.0,872.0 L971.0,874.9 L972.0,878.4 L973.0,881.3 L974.0,882.2 L975.0,883.5 L976.0,885.8 L977.0,885.1 L978.0,886.4 L979.0,888.0 L980.0,889.0 L981.0,888.2 L982.0,890.0 L983.0,889.4 L984.0,890.8 L985.0,890.3 L985.4,889.8 L986.0,890.4 L987.0,890.3 L988.0,889.5 L989.0,891.1 L990.0,889.7 L991.0,890.5 L992.0,889.6 L993.0,888.8 L994.0,889.1 L995.0,889.7 L996.0,890.0 L997.0,890.6 L998.0,889.6 L999.0,889.3 L1000.0,888.7 L1001.0,889.3 L1002.0,889.4 L1003.0,887.9 L1004.0,889.7 L1005.0,889.5 L1006.0,890.0 L1007.0,888.1 L1008.0,888.4 L1009.0,888.1 L1010.0,887.0 L1011.0,886.9 L1012.0,886.4 L1013.0,886.9 L1014.0,886.5 L1015.0,886.7 L1016.0,885.5 L1017.0,884.7 L1018.0,885.5 L1019.0,885.2 L1020.0,885.1 L1021.0,885.2 L1022.0,884.1 L1023.0,884.7 L1024.0,883.6 L1024.4,884.3 L1025.0,884.6 L1026.0,884.3 L1027.0,884.7 L1028.0,884.1 L1029.0,884.9 L1030.0,885.7 L1031.0,885.4 L1032.0,886.1 L1033.0,888.4 L1034.0,887.7 L1035.0,887.5 L1036.0,887.9 L1037.0,889.9 L1038.0,888.2 L1039.0,890.2 L1040.0,891.4 L1041.0,891.2 L1042.0,892.3 L1042.7,891.6 L1043.0,892.2 L1044.0,892.4 L1045.0,892.5 L1046.0,892.8 L1047.0,892.9 L1048.0,893.6 L1049.0,892.9 L1050.0,892.9 L1051.0,893.1 L1052.0,893.2 L1053.0,892.6 L1054.0,892.5 L1055.0,892.9 L1056.0,893.9 L1057.0,893.4 L1058.0,893.6 L1059.0,895.5 L1060.0,894.5 L1061.0,893.9 L1062.0,893.7 L1063.0,894.8 L1064.0,893.7 L1065.0,894.9 L1066.0,894.5 L1067.0,895.0 L1068.0,893.9 L1069.0,894.8 L1070.0,893.4 L1071.0,894.3 L1072.0,895.0 L1073.0,894.8 L1074.0,893.4 L1074.7,894.8 L1075.0,894.7 L1076.0,894.3 L1077.0,893.9 L1078.0,894.0 L1079.0,893.7 L1080.0,894.4 L1081.0,893.9 L1082.0,894.0 L1083.0,893.6 L1084.0,892.4 L1085.0,893.0 L1086.0,893.9 L1087.0,892.0 L1088.0,892.5 L1089.0,891.8 L1090.0,891.7 L1090.7,892.2 L1091.0,892.6 L1092.0,892.7 L1093.0,892.9 L1094.0,893.6 L1095.0,892.7 L1096.0,894.6 L1097.0,895.0 L1098.0,895.2 L1099.0,895.8 L1100.0,895.8 L1101.0,897.2 L1102.0,896.3 L1102.2,895.9 L1103.0,896.7 L1104.0,896.4 L1105.0,896.7 L1106.0,897.6 L1107.0,896.6 L1108.0,896.8 L1109.0,898.0 L1110.0,895.9 L1111.0,896.9 L1112.0,897.4 L1113.0,897.6 L1114.0,898.0 L1115.0,896.4 L1116.0,897.1 L1117.0,896.7 L1118.0,896.5 L1119.0,896.3 L1120.0,895.9 L1121.0,896.9 L1122.0,897.1 L1123.0,896.1 L1124.0,897.1 L1125.0,896.4 L1126.0,896.2 L1127.0,895.3 L1128.0,897.3 L1129.0,897.1 L1130.0,896.6 L1131.0,896.5 L1132.0,896.0 L1133.0,897.0 L1134.0,896.7 L1135.0,897.0 L1136.0,896.8 L1137.0,896.0 L1138.0,895.9 L1139.0,897.0 L1140.0,895.8 L1141.0,896.9 L1142.0,897.2 L1143.0,896.0 L1144.0,897.1 L1145.0,896.8 L1146.0,897.0 L1147.0,896.4 L1148.0,896.7 L1149.0,897.0 L1150.0,897.8 L1151.0,897.2 L1152.0,897.0 L1153.0,896.0 L1154.0,896.9 L1155.0,896.4 L1156.0,896.7 L1157.0,896.9 L1158.0,897.3 L1159.0,897.1 L1160.0,896.9 L1161.0,896.7 L1162.0,897.5 L1163.0,896.3 L1164.0,896.8 L1165.0,897.5 L1166.0,896.7 L1167.0,897.2 L1168.0,897.3 L1169.0,897.9 L1170.0,897.4 L1171.0,895.9 L1172.0,896.8 L1173.0,896.9 L1174.0,897.2 L1175.0,897.0 L1176.0,897.8 L1177.0,897.4 L1178.0,896.1 L1179.0,896.4 L1180.0,895.6 L1181.0,897.7 L1182.0,896.7 L1183.0,896.7 L1184.0,895.9 L1185.0,896.5 L1186.0,897.0 L1187.0,896.5 L1188.0,896.5 L1189.0,896.4 L1190.0,897.8 L1191.0,896.4 L1192.0,895.9 L1193.0,896.4 L1194.0,896.5 L1195.0,896.7 L1196.0,896.6 L1197.0,896.1 L1198.0,896.6 L1199.0,896.9 L1200.0,895.9 L1201.0,897.8 L1202.0,897.6 L1203.0,895.7 L1204.0,896.5 L1205.0,897.3 L1206.0,897.4 L1207.0,897.7 L1208.0,895.7 L1209.0,896.1 L1210.0,896.4 L1211.0,897.0 L1212.0,896.1 L1213.0,896.9 L1214.0,897.0 L1215.0,897.1 L1216.0,896.0 L1217.0,896.8 L1218.0,896.7 L1219.0,896.5 L1220.0,897.4 L1221.0,896.5 L1222.0,897.5 L1223.0,896.4 L1224.0,897.7 L1225.0,897.6 L1226.0,896.3 L1227.0,896.9 L1228.0,896.9 L1229.0,896.2 L1230.0,897.2 L1231.0,897.1 L1232.0,896.2 L1233.0,896.8 L1234.0,897.2 L1235.0,896.7 L1236.0,896.3 L1237.0,897.7 L1238.0,896.2 L1239.0,896.9 L1240.0,897.4 L1241.0,897.2 L1242.0,895.7 L1243.0,896.6 L1244.0,896.7 L1245.0,896.6 L1246.0,897.1 L1247.0,897.1 L1248.0,896.8 L1249.0,896.9 L1250.0,897.3 L1251.0,897.5 L1252.0,895.7 L1253.0,898.0 L1254.0,896.5 L1255.0,897.2 L1256.0,895.9 L1257.0,896.5 L1258.0,896.1 L1259.0,897.4 L1260.0,897.3 L1261.0,896.8 L1262.0,896.7 L1263.0,897.0 L1264.0,896.3 L1265.0,896.5 L1266.0,896.4 L1267.0,897.2 L1268.0,896.8 L1269.0,896.1 L1270.0,897.0 L1271.0,897.1 L1272.0,897.6 L1273.0,896.5 L1274.0,897.0 L1275.0,898.0 L1276.0,896.6 L1277.0,896.6 L1278.0,897.1 L1279.0,896.5 L1280.0,896.8 L1281.0,896.5 L1282.0,896.4 L1283.0,897.3 L1284.0,896.6 L1285.0,896.2 L1286.0,896.6 L1287.0,896.7 L1288.0,897.0 L1289.0,897.3 L1290.0,897.8 L1291.0,896.1 L1292.0,896.6 L1293.0,895.8 L1294.0,896.9 L1294.4,897.1 L1295.0,896.4 L1296.0,896.2 L1297.0,896.0 L1298.0,895.5 L1299.0,896.4 L1300.0,896.8 L1301.0,894.8 L1302.0,896.0 L1303.0,894.7 L1304.0,893.7 L1305.0,894.6 L1306.0,894.4 L1307.0,894.1 L1308.0,893.6 L1308.2,894.7 L1309.0,893.6 L1310.0,894.1 L1311.0,894.0 L1312.0,893.1 L1313.0,892.6 L1314.0,892.6 L1315.0,893.4 L1316.0,893.8 L1317.0,892.5 L1318.0,893.1 L1319.0,894.4 L1320.0,892.5 L1321.0,893.7 L1322.0,893.7 L1323.0,893.9 L1324.0,892.6 L1325.0,893.6 L1326.0,892.7 L1327.0,894.2 L1328.0,892.9 L1329.0,893.6 L1330.0,893.0 L1331.0,893.5 L1332.0,892.6 L1333.0,893.6 L1334.0,893.7 L1335.0,893.4 L1336.0,894.3 L1337.0,893.6 L1338.0,893.8 L1339.0,893.7 L1340.0,894.4 L1341.0,893.0 L1342.0,893.2 L1343.0,893.2 L1344.0,893.7 L1345.0,893.5 L1346.0,893.8 L1347.0,893.5 L1348.0,893.0 L1349.0,893.2 L1350.0,893.5 L1351.0,892.0 L1352.0,894.0 L1353.0,892.9 L1354.0,893.0 L1355.0,893.3 L1356.0,893.0 L1357.0,892.3 L1358.0,892.9 L1359.0,893.8 L1360.0,893.6 L1360.8,893.7 L1361.0,892.6 L1362.0,891.8 L1363.0,890.7 L1364.0,888.8 L1365.0,885.5 L1366.0,882.0 L1367.0,878.3 L1367.7,878.2 L1368.0,875.7 L1369.0,873.5 L1370.0,870.5 L1371.0,869.5 L1371.8,867.1 L1372.0,867.0 L1373.0,869.6 L1374.0,874.1 L1375.0,879.8 L1376.0,884.3 L1376.8,886.1 L1377.0,885.8 L1378.0,889.4 L1379.0,890.9 L1380.0,893.6 L1381.0,893.0 L1381.4,893.9 L1382.0,893.4 L1383.0,893.3 L1384.0,894.8 L1385.0,894.0 L1386.0,893.8 L1387.0,894.3 L1388.0,893.5 L1389.0,893.7 L1390.0,893.6 L1391.0,895.1 L1392.0,894.2 L1393.0,894.3 L1394.0,894.6 L1395.0,893.9 L1396.0,893.9 L1397.0,893.1 L1398.0,894.3 L1399.0,894.1 L1400.0,893.8 L1401.0,894.7 L1402.0,893.0 L1403.0,894.2 L1404.0,893.2 L1405.0,893.3 L1406.0,893.8 L1407.0,894.7 L1408.0,893.2 L1409.0,893.3 L1410.0,893.2 L1411.0,895.0 L1412.0,894.1 L1413.0,894.0 L1414.0,894.9 L1415.0,893.9 L1416.0,892.5 L1417.0,893.4 L1418.0,892.9 L1419.0,894.7 L1420.0,892.7 L1421.0,893.6 L1422.0,893.1 L1422.6,893.1 L1423.0,893.4 L1424.0,893.2 L1425.0,892.8 L1426.0,892.3 L1427.0,892.4 L1428.0,892.0 L1429.0,891.8 L1430.0,892.1 L1431.0,891.7 L1432.0,891.8 L1433.0,891.1 L1434.0,892.1 L1435.0,890.4 L1436.0,890.0 L1437.0,891.0 L1438.0,889.8 L1439.0,890.2 L1440.0,890.6 L1441.0,889.9 L1442.0,889.8 L1443.0,890.6 L1444.0,890.3 L1445.0,889.9 L1446.0,889.6 L1447.0,890.1 L1448.0,889.5 L1449.0,890.1 L1450.0,890.2 L1451.0,891.2 L1452.0,891.7 L1453.0,891.1 L1454.0,891.5 L1455.0,891.4 L1456.0,891.5 L1457.0,892.3 L1458.0,893.2 L1459.0,893.5 L1459.3,893.7" fill="none" stroke="#ff00ff" stroke-width="5.5" stroke-linejoin="round"/><path d="M166.5,1297.9 L167.0,1293.4 L167.5,1300.2 L168.0,1301.0 L168.5,1300.2 L169.0,1300.3 L169.5,1300.6 L170.0,1303.6 L170.5,1299.3 L171.0,1301.6 L171.5,1300.2 L172.0,1300.0 L172.5,1298.6 L173.0,1298.2 L173.5,1296.8 L174.0,1300.0 L174.5,1298.4 L175.0,1296.8 L175.5,1297.6 L176.0,1296.9 L176.5,1302.1 L177.0,1298.7 L177.5,1299.4 L178.0,1297.0 L178.5,1297.4 L179.0,1301.4 L179.5,1299.0 L180.0,1299.9 L180.5,1303.0 L181.0,1303.5 L181.5,1300.9 L182.0,1300.6 L182.5,1300.2 L183.0,1299.3 L183.5,1303.7 L184.0,1297.7 L184.5,1299.9 L185.0,1296.5 L185.5,1297.8 L186.0,1301.0 L186.5,1301.2 L187.0,1301.1 L187.5,1299.9 L188.0,1299.3 L188.5,1299.7 L189.0,1300.1 L189.5,1303.0 L190.0,1303.7 L190.5,1301.9 L191.0,1300.2 L191.5,1299.6 L192.0,1302.0 L192.5,1301.1 L193.0,1298.3 L193.5,1304.4 L194.0,1301.9 L194.5,1301.5 L195.0,1300.6 L195.5,1300.7 L196.0,1304.2 L196.5,1300.9 L197.0,1303.0 L197.5,1304.1 L198.0,1306.5 L198.5,1304.4 L199.0,1303.3 L199.5,1302.7 L200.0,1305.3 L200.5,1305.7 L201.0,1303.2 L201.5,1305.2 L202.0,1304.0 L202.5,1301.3 L203.0,1302.6 L203.5,1306.2 L204.0,1307.5 L204.5,1306.2 L205.0,1304.6 L205.5,1303.8 L206.0,1306.2 L206.5,1306.0 L207.0,1302.4 L207.5,1306.8 L208.0,1304.4 L208.5,1307.1 L209.0,1307.0 L209.5,1307.4 L210.0,1308.2 L210.5,1307.6 L211.0,1304.4 L211.5,1304.6 L212.0,1308.5 L212.5,1307.6 L213.0,1303.8 L213.5,1303.1 L214.0,1308.6 L214.5,1311.1 L215.0,1308.6 L215.5,1306.6 L216.0,1307.6 L216.5,1302.0 L217.0,1305.3 L217.5,1309.1 L218.0,1308.8 L218.5,1303.3 L219.0,1309.5 L219.5,1308.3 L220.0,1309.1 L220.5,1307.0 L221.0,1307.4 L221.5,1305.4 L222.0,1308.0 L222.5,1309.1 L223.0,1305.7 L223.5,1308.2 L224.0,1306.5 L224.5,1309.5 L225.0,1309.3 L225.5,1303.1 L226.0,1308.3 L226.5,1309.4 L227.0,1306.4 L227.5,1307.1 L228.0,1307.2 L228.5,1305.3 L229.0,1307.2 L229.5,1310.3 L230.0,1308.3 L230.5,1310.1 L231.0,1309.1 L231.5,1309.4 L232.0,1307.4 L232.5,1308.5 L233.0,1310.4 L233.5,1309.4 L234.0,1307.5 L234.5,1305.9 L235.0,1305.6 L235.5,1307.2 L236.0,1307.4 L236.5,1304.3 L237.0,1306.8 L237.5,1306.8 L238.0,1306.5 L238.5,1305.2 L239.0,1308.1 L239.5,1306.0 L240.0,1303.3 L240.5,1303.6 L241.0,1304.6 L241.5,1303.6 L242.0,1302.4 L242.5,1301.4 L243.0,1300.3 L243.5,1299.1 L244.0,1297.7 L244.5,1297.8 L245.0,1294.8 L245.5,1295.1 L246.0,1295.5 L247.0,1292.5 L248.0,1290.3 L249.0,1290.2 L250.0,1287.3 L251.0,1283.9 L252.0,1280.6 L252.1,1280.5 L253.0,1277.4 L254.0,1273.8 L255.0,1269.2 L256.0,1265.2 L257.0,1258.8 L257.2,1256.7 L258.0,1251.3 L259.0,1243.0 L260.0,1231.1 L260.6,1222.2 L261.0,1217.8 L262.0,1195.4 L262.3,1189.3 L263.0,1178.1 L264.0,1164.8 L264.8,1156.3 L265.0,1153.1 L266.0,1143.6 L267.0,1133.6 L268.0,1127.2 L269.0,1123.3 L269.1,1122.8 L270.0,1125.1 L271.0,1128.6 L272.0,1135.1 L273.0,1142.4 L274.0,1154.0 L274.2,1155.5 L275.0,1179.1 L275.4,1189.3 L276.0,1201.3 L277.0,1214.6 L277.7,1223.8 L278.0,1228.3 L279.0,1239.4 L280.0,1251.6 L280.5,1259.0 L281.0,1262.4 L282.0,1273.4 L282.8,1281.0 L283.0,1283.0 L284.0,1288.9 L285.0,1295.7 L286.0,1299.9 L286.8,1303.1 L287.0,1304.5 L288.0,1306.3 L289.0,1308.0 L290.0,1309.9 L291.0,1311.1 L292.0,1312.3 L293.0,1313.1 L294.0,1313.9 L294.2,1315.2 L295.0,1315.0 L296.0,1317.6 L297.0,1319.5 L298.0,1320.2 L299.0,1321.8 L300.0,1320.7 L301.0,1322.4 L302.0,1322.6 L303.0,1323.2 L303.3,1322.8 L304.0,1323.5 L305.0,1325.3 L306.0,1325.6 L307.0,1326.4 L308.0,1326.8 L309.0,1327.0 L310.0,1326.4 L311.0,1327.1 L312.0,1328.0 L313.0,1328.5 L314.0,1327.8 L315.0,1327.9 L316.0,1328.0 L316.9,1329.4 L317.0,1328.7 L318.0,1328.3 L319.0,1328.1 L320.0,1328.9 L321.0,1327.6 L322.0,1328.6 L323.0,1328.4 L324.0,1328.5 L325.0,1329.0 L326.0,1329.2 L327.0,1330.9 L328.0,1329.1 L329.0,1329.5 L330.0,1328.6 L331.0,1328.1 L332.0,1329.9 L333.0,1330.4 L334.0,1328.6 L335.0,1329.2 L336.0,1330.0 L337.0,1329.4 L338.0,1327.9 L339.0,1330.0 L340.0,1329.3 L341.0,1329.9 L342.0,1328.9 L343.0,1330.0 L344.0,1330.1 L345.0,1329.0 L346.0,1329.8 L347.0,1329.1 L348.0,1329.2 L349.0,1328.9 L350.0,1329.2 L351.0,1329.1 L352.0,1330.2 L353.0,1329.4 L354.0,1328.8 L355.0,1330.3 L356.0,1329.8 L357.0,1330.1 L358.0,1329.5 L359.0,1329.9 L360.0,1329.4 L361.0,1328.9 L362.0,1329.5 L363.0,1329.6 L364.0,1329.6 L365.0,1330.0 L366.0,1328.4 L367.0,1329.6 L368.0,1329.0 L369.0,1329.3 L370.0,1329.7 L371.0,1329.5 L372.0,1329.0 L373.0,1329.9 L374.0,1329.4 L375.0,1330.0 L376.0,1330.1 L377.0,1329.2 L378.0,1328.7 L379.0,1329.4 L380.0,1329.8 L381.0,1329.5 L382.0,1328.6 L383.0,1328.3 L384.0,1328.7 L385.0,1328.7 L386.0,1329.7 L387.0,1329.3 L388.0,1329.8 L388.9,1329.2 L389.0,1330.3 L390.0,1329.2 L391.0,1329.5 L392.0,1328.9 L393.0,1329.4 L394.0,1329.8 L395.0,1329.6 L396.0,1329.8 L397.0,1328.6 L398.0,1329.2 L399.0,1330.0 L400.0,1329.0 L401.0,1328.7 L402.0,1328.6 L403.0,1328.4 L404.0,1328.7 L405.0,1329.5 L406.0,1328.8 L407.0,1328.5 L408.0,1327.9 L409.0,1327.6 L410.0,1329.7 L411.0,1327.9 L412.0,1328.2 L413.0,1327.8 L414.0,1328.1 L415.0,1327.7 L416.0,1327.9 L417.0,1328.6 L418.0,1327.2 L419.0,1327.9 L420.0,1327.5 L421.0,1327.9 L422.0,1327.0 L423.0,1327.6 L424.0,1326.6 L425.0,1326.1 L426.0,1326.3 L427.0,1326.4 L428.0,1326.3 L429.0,1326.7 L430.0,1327.5 L431.0,1326.0 L432.0,1326.9 L433.0,1326.6 L434.0,1326.0 L435.0,1325.7 L436.0,1326.4 L437.0,1326.3 L438.0,1325.6 L439.0,1325.6 L440.0,1325.5 L441.0,1324.5 L442.0,1325.2 L443.0,1325.1 L443.9,1325.8 L444.0,1323.9 L445.0,1323.7 L446.0,1323.6 L447.0,1322.3 L448.0,1321.3 L449.0,1320.1 L450.0,1318.4 L451.0,1316.8 L452.0,1315.1 L453.0,1311.8 L454.0,1310.9 L455.0,1306.9 L455.3,1308.5 L456.0,1306.0 L457.0,1300.8 L458.0,1296.6 L459.0,1290.1 L460.0,1284.6 L461.0,1279.3 L462.0,1274.2 L462.2,1273.2 L463.0,1270.2 L464.0,1265.3 L465.0,1260.8 L466.0,1256.4 L467.0,1252.5 L468.0,1252.2 L469.0,1250.8 L469.1,1249.5 L470.0,1251.4 L471.0,1254.0 L472.0,1256.5 L473.0,1262.3 L474.0,1268.0 L475.0,1274.4 L475.9,1278.4 L476.0,1278.9 L477.0,1283.3 L478.0,1289.3 L479.0,1293.8 L480.0,1300.5 L481.0,1305.7 L482.0,1308.8 L482.8,1312.3 L483.0,1313.6 L484.0,1316.3 L485.0,1318.2 L486.0,1319.0 L487.0,1321.2 L488.0,1322.4 L489.0,1324.8 L490.0,1324.5 L491.0,1325.2 L492.0,1325.7 L493.0,1327.5 L494.0,1328.3 L495.0,1328.2 L496.0,1328.6 L497.0,1329.3 L498.0,1330.5 L498.3,1328.9 L499.0,1329.8 L500.0,1330.1 L501.0,1330.4 L502.0,1331.1 L503.0,1331.0 L504.0,1330.8 L505.0,1331.6 L506.0,1331.5 L507.0,1331.1 L508.0,1331.2 L509.0,1330.5 L510.0,1331.3 L511.0,1330.9 L512.0,1330.8 L513.0,1331.4 L514.0,1330.6 L515.0,1331.1 L516.0,1331.4 L517.0,1332.0 L518.0,1331.7 L519.0,1332.2 L520.0,1332.9 L521.0,1332.5 L522.0,1331.4 L523.0,1331.1 L524.0,1331.6 L525.0,1331.7 L526.0,1331.1 L527.0,1331.3 L528.0,1331.4 L529.0,1332.1 L530.0,1333.4 L531.0,1333.6 L532.0,1332.0 L533.0,1332.4 L534.0,1331.9 L535.0,1331.8 L536.0,1332.8 L537.0,1332.9 L538.0,1332.5 L539.0,1333.4 L540.0,1332.8 L541.0,1333.7 L542.0,1332.8 L543.0,1333.7 L544.0,1333.1 L545.0,1333.4 L546.0,1333.7 L547.0,1332.6 L548.0,1333.0 L549.0,1333.5 L550.0,1333.4 L551.0,1333.8 L552.0,1333.2 L553.0,1332.9 L554.0,1333.7 L555.0,1333.9 L556.0,1333.3 L557.0,1334.6 L558.0,1334.3 L559.0,1334.4 L560.0,1334.4 L561.0,1333.5 L562.0,1335.3 L563.0,1333.6 L564.0,1334.3 L565.0,1334.5 L566.0,1334.3 L567.0,1334.3 L568.0,1333.7 L569.0,1333.9 L570.0,1334.2 L571.0,1335.0 L571.6,1333.8 L572.0,1334.6 L573.0,1334.5 L574.0,1334.3 L575.0,1333.9 L576.0,1334.1 L577.0,1333.2 L578.0,1334.3 L579.0,1334.4 L580.0,1333.9 L581.0,1334.5 L582.0,1334.4 L583.0,1333.8 L584.0,1334.7 L585.0,1333.9 L586.0,1335.7 L587.0,1333.6 L588.0,1333.7 L589.0,1333.8 L590.0,1334.4 L591.0,1334.9 L592.0,1334.3 L593.0,1334.0 L594.0,1335.3 L595.0,1334.8 L596.0,1334.0 L597.0,1334.1 L598.0,1333.3 L599.0,1334.2 L600.0,1335.2 L601.0,1333.5 L602.0,1333.3 L603.0,1334.2 L604.0,1332.7 L605.0,1334.9 L606.0,1333.2 L607.0,1333.7 L608.0,1334.0 L609.0,1334.8 L610.0,1334.3 L611.0,1332.9 L612.0,1333.0 L613.0,1334.1 L614.0,1332.7 L615.0,1333.8 L616.0,1333.4 L617.0,1334.4 L618.0,1334.6 L619.0,1332.4 L620.0,1334.1 L621.0,1334.2 L622.0,1333.4 L623.0,1333.4 L624.0,1333.1 L625.0,1333.5 L626.0,1334.0 L627.0,1334.5 L628.0,1334.5 L629.0,1333.5 L630.0,1333.1 L631.0,1334.2 L632.0,1331.9 L633.0,1332.7 L634.0,1333.9 L635.0,1334.8 L636.0,1333.0 L637.0,1333.5 L638.0,1332.7 L639.0,1333.3 L640.0,1333.3 L641.0,1332.8 L642.0,1333.5 L643.0,1333.1 L644.0,1333.5 L645.0,1333.0 L646.0,1332.4 L647.0,1333.2 L647.1,1333.6 L648.0,1332.4 L649.0,1333.0 L650.0,1331.4 L651.0,1329.6 L652.0,1328.5 L653.0,1326.7 L654.0,1324.7 L655.0,1323.5 L656.0,1320.9 L657.0,1317.4 L658.0,1314.9 L658.6,1313.5 L659.0,1313.1 L660.0,1311.0 L661.0,1306.9 L662.0,1304.6 L663.0,1301.6 L664.0,1299.4 L665.0,1297.6 L666.0,1294.3 L667.0,1292.3 L668.0,1292.9 L668.2,1292.0 L669.0,1294.2 L670.0,1293.6 L671.0,1295.2 L672.0,1297.2 L673.0,1299.1 L674.0,1300.8 L675.0,1303.1 L676.0,1305.7 L676.9,1306.6 L677.0,1308.1 L678.0,1309.0 L679.0,1309.3 L680.0,1313.2 L681.0,1313.5 L682.0,1316.6 L683.0,1319.4 L684.0,1320.2 L685.0,1320.3 L686.0,1322.0 L687.0,1323.9 L688.0,1326.0 L689.0,1325.7 L690.0,1327.7 L690.6,1327.6 L691.0,1327.6 L692.0,1328.1 L693.0,1329.7 L694.0,1328.3 L695.0,1329.0 L696.0,1330.7 L697.0,1331.1 L698.0,1330.1 L699.0,1330.7 L700.0,1330.9 L701.0,1332.3 L702.0,1331.8 L703.0,1333.4 L704.0,1333.2 L705.0,1333.2 L706.0,1333.4 L707.0,1333.8 L708.0,1334.2 L709.0,1333.8 L710.0,1334.2 L711.0,1334.7 L712.0,1334.3 L713.0,1335.1 L714.0,1334.6 L715.0,1334.4 L716.0,1335.1 L717.0,1336.2 L718.0,1336.2 L719.0,1334.5 L720.0,1335.8 L721.0,1335.4 L722.0,1335.7 L723.0,1335.8 L724.0,1335.9 L725.0,1335.9 L726.0,1336.1 L727.0,1336.5 L728.0,1335.7 L729.0,1335.7 L730.0,1335.8 L731.0,1335.8 L731.8,1336.9 L732.0,1335.8 L733.0,1336.5 L734.0,1336.5 L735.0,1336.9 L736.0,1336.5 L737.0,1337.1 L738.0,1336.5 L739.0,1336.6 L740.0,1337.0 L741.0,1335.6 L742.0,1336.7 L743.0,1337.4 L744.0,1336.6 L745.0,1336.4 L746.0,1337.6 L747.0,1336.6 L748.0,1337.2 L749.0,1335.1 L750.0,1336.6 L751.0,1336.2 L752.0,1336.7 L753.0,1337.2 L754.0,1336.4 L755.0,1336.4 L756.0,1334.8 L757.0,1337.0 L758.0,1337.3 L759.0,1336.6 L760.0,1336.2 L761.0,1336.7 L762.0,1337.1 L763.0,1336.9 L764.0,1337.7 L765.0,1336.2 L766.0,1335.7 L767.0,1336.8 L768.0,1337.3 L769.0,1336.2 L770.0,1336.5 L771.0,1336.1 L772.0,1335.7 L773.0,1336.1 L774.0,1335.3 L775.0,1336.7 L776.0,1336.8 L777.0,1337.0 L778.0,1336.0 L779.0,1336.1 L780.0,1335.5 L781.0,1335.6 L782.0,1337.0 L783.0,1338.2 L784.0,1335.9 L785.0,1336.3 L786.0,1337.1 L787.0,1336.1 L788.0,1336.8 L789.0,1336.3 L790.0,1336.3 L791.0,1337.0 L792.0,1336.3 L793.0,1335.7 L794.0,1337.0 L795.0,1336.5 L795.9,1336.2 L796.0,1336.0 L797.0,1336.3 L798.0,1334.3 L799.0,1333.3 L800.0,1332.6 L801.0,1330.7 L802.0,1330.1 L803.0,1327.4 L804.0,1327.7 L805.0,1327.3 L806.0,1328.2 L807.0,1327.3 L808.0,1328.2 L809.0,1328.0 L810.0,1328.0 L811.0,1328.6 L812.0,1329.2 L813.0,1330.6 L814.0,1330.0 L815.0,1330.7 L816.0,1331.3 L817.0,1331.5 L818.0,1331.1 L819.0,1331.1 L820.0,1329.2 L821.0,1329.1 L822.0,1329.2 L823.0,1329.2 L824.0,1328.5 L825.0,1327.4 L826.0,1327.4 L827.0,1326.4 L827.5,1327.9 L828.0,1326.3 L829.0,1327.6 L830.0,1328.1 L831.0,1328.1 L832.0,1326.7 L833.0,1327.9 L834.0,1327.7 L835.0,1327.8 L836.0,1329.1 L837.0,1328.4 L838.0,1327.5 L839.0,1327.8 L840.0,1328.9 L841.0,1328.6 L841.2,1327.8 L842.0,1325.6 L843.0,1320.7 L843.5,1317.7 L844.0,1314.3 L844.6,1309.8 L845.0,1311.3 L846.0,1316.7 L846.5,1317.0 L847.0,1318.9 L848.0,1322.5 L849.0,1322.5 L849.2,1322.8 L850.0,1323.3 L851.0,1321.9 L852.0,1321.5 L853.0,1320.1 L853.8,1320.8 L854.0,1320.0 L855.0,1318.9 L856.0,1315.9 L857.0,1316.1 L858.0,1314.1 L859.0,1311.6 L860.0,1311.7 L861.0,1308.8 L862.0,1309.5 L863.0,1307.9 L864.0,1310.1 L865.0,1306.5 L866.0,1307.2 L866.4,1307.4 L867.0,1308.4 L868.0,1308.5 L869.0,1308.5 L870.0,1308.5 L871.0,1310.3 L872.0,1309.0 L873.0,1310.1 L874.0,1311.6 L875.0,1310.5 L876.0,1311.5 L877.0,1313.5 L877.8,1313.8 L878.0,1313.0 L879.0,1314.8 L880.0,1317.3 L881.0,1317.5 L882.0,1319.6 L883.0,1320.7 L884.0,1321.7 L885.0,1324.3 L886.0,1325.0 L887.0,1325.8 L888.0,1325.4 L889.0,1326.1 L890.0,1326.6 L891.0,1327.1 L892.0,1327.0 L893.0,1327.2 L894.0,1328.6 L895.0,1327.4 L896.0,1328.0 L897.0,1328.2 L898.0,1328.1 L898.4,1327.7 L899.0,1327.9 L900.0,1328.4 L901.0,1326.8 L902.0,1325.6 L903.0,1326.0 L904.0,1323.2 L905.0,1323.9 L906.0,1323.0 L906.5,1321.9 L907.0,1322.6 L908.0,1323.0 L909.0,1324.8 L910.0,1325.6 L911.0,1326.0 L912.0,1326.4 L913.0,1326.9 L914.0,1328.3 L914.5,1327.6 L915.0,1328.3 L916.0,1328.3 L917.0,1328.7 L918.0,1329.0 L919.0,1328.5 L920.0,1328.7 L921.0,1328.3 L922.0,1329.1 L923.0,1328.9 L924.0,1329.4 L925.0,1329.3 L926.0,1328.0 L927.0,1327.6 L928.0,1328.8 L929.0,1329.1 L930.0,1328.0 L931.0,1329.3 L932.0,1328.5 L933.0,1328.4 L934.0,1328.7 L935.0,1327.6 L936.0,1327.5 L937.0,1328.2 L937.4,1327.7 L938.0,1328.4 L939.0,1328.4 L940.0,1326.8 L941.0,1327.8 L942.0,1328.5 L943.0,1326.6 L944.0,1327.6 L945.0,1326.8 L946.0,1326.2 L947.0,1327.8 L948.0,1327.5 L949.0,1326.3 L950.0,1326.0 L951.0,1326.7 L952.0,1326.3 L953.0,1325.1 L954.0,1325.2 L955.0,1324.3 L956.0,1323.6 L957.0,1323.7 L958.0,1322.5 L959.0,1322.6 L960.0,1321.5 L960.3,1321.2 L961.0,1320.7 L962.0,1320.3 L963.0,1319.2 L964.0,1317.3 L965.0,1314.6 L966.0,1313.4 L966.5,1311.4 L967.0,1309.6 L968.0,1305.6 L969.0,1303.7 L970.0,1305.8 L971.0,1310.2 L971.5,1312.7 L972.0,1314.5 L973.0,1318.4 L974.0,1322.0 L975.0,1322.3 L976.0,1323.6 L977.0,1324.4 L978.0,1324.7 L979.0,1324.3 L980.0,1325.5 L981.0,1325.7 L982.0,1326.0 L983.0,1325.9 L983.2,1325.5 L984.0,1325.2 L985.0,1326.5 L986.0,1326.5 L987.0,1326.3 L988.0,1325.9 L989.0,1327.1 L990.0,1326.2 L991.0,1325.7 L992.0,1326.1 L993.0,1325.5 L994.0,1325.9 L995.0,1325.5 L996.0,1325.6 L997.0,1325.3 L998.0,1324.9 L999.0,1325.4 L1000.0,1325.8 L1001.0,1324.5 L1001.5,1324.8 L1002.0,1324.4 L1003.0,1325.6 L1004.0,1325.0 L1005.0,1325.8 L1006.0,1324.9 L1007.0,1326.0 L1008.0,1325.4 L1009.0,1325.6 L1010.0,1326.4 L1011.0,1326.1 L1012.0,1326.2 L1013.0,1327.3 L1014.0,1327.0 L1015.0,1328.0 L1016.0,1329.1 L1017.0,1327.5 L1018.0,1327.9 L1019.0,1327.4 L1020.0,1327.8 L1021.0,1329.1 L1022.0,1329.1 L1023.0,1329.3 L1024.0,1329.5 L1025.0,1328.9 L1026.0,1328.5 L1027.0,1330.3 L1028.0,1329.8 L1029.0,1330.4 L1030.0,1329.7 L1031.0,1330.1 L1032.0,1329.4 L1033.0,1329.7 L1034.0,1329.6 L1035.0,1329.9 L1036.0,1330.5 L1037.0,1330.1 L1038.0,1328.0 L1039.0,1329.6 L1040.0,1329.7 L1041.0,1330.2 L1042.0,1329.8 L1043.0,1329.3 L1044.0,1329.2 L1045.0,1329.5 L1046.0,1329.3 L1047.0,1330.5 L1048.0,1330.0 L1049.0,1329.7 L1050.0,1330.3 L1051.0,1331.0 L1052.0,1329.6 L1053.0,1329.7 L1054.0,1329.5 L1055.0,1329.0 L1056.0,1329.3 L1057.0,1329.1 L1058.0,1330.0 L1059.0,1330.0 L1060.0,1330.2 L1061.0,1329.2 L1062.0,1330.3 L1063.0,1329.1 L1064.0,1329.6 L1065.0,1330.5 L1066.0,1330.4 L1067.0,1330.3 L1068.0,1330.9 L1069.0,1330.3 L1070.0,1329.5 L1071.0,1329.6 L1072.0,1329.2 L1073.0,1329.8 L1074.0,1329.2 L1074.7,1329.3 L1075.0,1329.1 L1076.0,1328.8 L1077.0,1331.4 L1078.0,1330.7 L1079.0,1329.2 L1080.0,1331.0 L1081.0,1330.8 L1082.0,1330.3 L1083.0,1331.8 L1084.0,1332.6 L1085.0,1333.2 L1086.0,1334.0 L1087.0,1333.3 L1088.0,1334.3 L1089.0,1335.1 L1090.0,1335.5 L1091.0,1335.8 L1092.0,1335.9 L1093.0,1336.9 L1094.0,1335.6 L1095.0,1335.6 L1095.3,1337.5 L1096.0,1336.8 L1097.0,1337.3 L1098.0,1336.8 L1099.0,1336.6 L1100.0,1336.6 L1101.0,1337.0 L1102.0,1336.7 L1103.0,1337.0 L1104.0,1337.0 L1105.0,1337.6 L1106.0,1337.7 L1107.0,1338.2 L1108.0,1336.9 L1109.0,1337.3 L1110.0,1338.0 L1111.0,1337.6 L1112.0,1336.0 L1113.0,1337.7 L1114.0,1337.5 L1115.0,1337.3 L1116.0,1337.4 L1117.0,1337.2 L1118.0,1338.3 L1119.0,1338.1 L1120.0,1337.8 L1121.0,1338.4 L1122.0,1338.3 L1123.0,1337.2 L1124.0,1337.1 L1125.0,1337.1 L1126.0,1338.2 L1127.0,1337.7 L1128.0,1338.5 L1129.0,1338.1 L1130.0,1337.6 L1131.0,1337.0 L1132.0,1337.6 L1133.0,1339.0 L1134.0,1337.3 L1135.0,1337.2 L1136.0,1337.6 L1137.0,1338.5 L1138.0,1337.6 L1139.0,1337.0 L1140.0,1337.3 L1141.0,1337.5 L1142.0,1337.7 L1143.0,1338.2 L1144.0,1339.1 L1145.0,1338.4 L1146.0,1337.9 L1147.0,1337.5 L1148.0,1337.0 L1149.0,1337.8 L1150.0,1338.2 L1151.0,1337.9 L1152.0,1337.3 L1153.0,1337.8 L1154.0,1337.2 L1155.0,1337.2 L1156.0,1337.2 L1157.0,1337.3 L1158.0,1337.2 L1159.0,1337.8 L1160.0,1337.2 L1161.0,1337.1 L1162.0,1337.8 L1163.0,1337.5 L1164.0,1337.8 L1165.0,1336.6 L1166.0,1337.8 L1167.0,1337.0 L1168.0,1336.3 L1169.0,1336.8 L1170.0,1336.2 L1171.0,1336.3 L1172.0,1336.6 L1173.0,1337.4 L1174.0,1336.0 L1175.0,1336.9 L1176.0,1336.5 L1177.0,1337.6 L1178.0,1336.8 L1179.0,1337.0 L1180.0,1337.4 L1181.0,1335.9 L1182.0,1336.3 L1183.0,1335.6 L1184.0,1335.9 L1185.0,1336.6 L1186.0,1336.3 L1187.0,1336.6 L1188.0,1336.1 L1189.0,1335.9 L1190.0,1336.2 L1191.0,1335.7 L1192.0,1335.5 L1193.0,1335.2 L1194.0,1336.0 L1195.0,1336.3 L1196.0,1335.3 L1197.0,1335.7 L1198.0,1334.6 L1199.0,1335.2 L1200.0,1335.9 L1201.0,1335.1 L1202.0,1336.1 L1203.0,1335.6 L1204.0,1336.0 L1205.0,1335.4 L1206.0,1334.9 L1207.0,1335.7 L1208.0,1336.1 L1209.0,1335.3 L1210.0,1335.8 L1211.0,1335.2 L1212.0,1335.4 L1213.0,1336.3 L1214.0,1335.5 L1215.0,1334.9 L1216.0,1335.8 L1217.0,1335.5 L1218.0,1335.1 L1219.0,1335.8 L1220.0,1333.7 L1221.0,1335.7 L1221.2,1336.5 L1222.0,1335.5 L1223.0,1334.2 L1224.0,1336.1 L1225.0,1336.8 L1226.0,1335.6 L1227.0,1334.7 L1228.0,1334.9 L1229.0,1335.2 L1230.0,1335.3 L1231.0,1335.9 L1232.0,1335.5 L1233.0,1333.9 L1234.0,1335.0 L1235.0,1335.1 L1236.0,1336.2 L1237.0,1334.8 L1238.0,1334.3 L1239.0,1334.9 L1240.0,1335.3 L1241.0,1334.0 L1242.0,1335.7 L1243.0,1335.0 L1244.0,1335.5 L1245.0,1335.4 L1246.0,1335.3 L1247.0,1335.8 L1248.0,1336.0 L1249.0,1334.8 L1250.0,1334.9 L1251.0,1335.6 L1252.0,1335.1 L1253.0,1334.6 L1254.0,1335.0 L1255.0,1334.4 L1256.0,1334.6 L1257.0,1332.9 L1258.0,1335.0 L1259.0,1336.0 L1260.0,1335.3 L1261.0,1335.3 L1262.0,1335.0 L1263.0,1334.4 L1264.0,1335.1 L1265.0,1334.9 L1266.0,1334.7 L1267.0,1335.0 L1268.0,1334.5 L1269.0,1334.9 L1270.0,1335.2 L1271.0,1335.4 L1272.0,1334.8 L1273.0,1335.2 L1274.0,1334.8 L1275.0,1333.4 L1276.0,1333.6 L1277.0,1334.6 L1278.0,1334.0 L1279.0,1335.0 L1280.0,1333.9 L1281.0,1334.4 L1282.0,1334.3 L1283.0,1334.2 L1284.0,1334.3 L1285.0,1334.6 L1286.0,1334.6 L1287.0,1334.3 L1288.0,1334.7 L1289.0,1334.9 L1290.0,1334.4 L1291.0,1334.1 L1292.0,1334.1 L1293.0,1334.2 L1294.0,1334.2 L1295.0,1334.5 L1296.0,1336.0 L1297.0,1335.1 L1298.0,1334.4 L1299.0,1334.7 L1300.0,1334.7 L1301.0,1335.1 L1302.0,1335.2 L1303.0,1333.8 L1304.0,1335.6 L1305.0,1333.8 L1306.0,1334.3 L1307.0,1333.8 L1308.0,1333.2 L1308.2,1333.2 L1309.0,1335.4 L1310.0,1335.0 L1311.0,1333.6 L1312.0,1333.5 L1313.0,1335.0 L1314.0,1333.5 L1315.0,1334.4 L1316.0,1335.3 L1317.0,1334.5 L1318.0,1334.9 L1319.0,1334.2 L1320.0,1333.0 L1321.0,1333.5 L1322.0,1332.9 L1323.0,1334.1 L1324.0,1333.2 L1325.0,1334.0 L1326.0,1333.6 L1327.0,1333.5 L1328.0,1334.2 L1329.0,1333.6 L1330.0,1333.3 L1331.0,1334.4 L1332.0,1333.7 L1333.0,1332.9 L1334.0,1334.4 L1335.0,1332.8 L1336.0,1333.8 L1337.0,1333.9 L1338.0,1333.4 L1339.0,1333.0 L1340.0,1333.3 L1341.0,1333.2 L1342.0,1332.8 L1343.0,1333.9 L1344.0,1333.0 L1345.0,1332.8 L1346.0,1334.0 L1347.0,1332.7 L1348.0,1332.2 L1349.0,1333.0 L1350.0,1333.0 L1351.0,1332.9 L1352.0,1334.0 L1353.0,1332.4 L1354.0,1333.4 L1355.0,1333.1 L1356.0,1333.3 L1357.0,1332.3 L1358.0,1332.1 L1359.0,1332.1 L1360.0,1332.3 L1360.8,1332.6 L1361.0,1332.9 L1362.0,1329.9 L1363.0,1329.6 L1364.0,1326.7 L1365.0,1323.9 L1366.0,1320.9 L1366.5,1320.7 L1367.0,1318.5 L1368.0,1318.4 L1369.0,1315.1 L1370.0,1313.9 L1371.0,1312.7 L1371.8,1312.9 L1372.0,1311.8 L1373.0,1314.0 L1374.0,1315.8 L1375.0,1319.1 L1376.0,1321.1 L1377.0,1323.3 L1378.0,1324.0 L1379.0,1326.1 L1380.0,1328.4 L1381.0,1328.2 L1382.0,1329.2 L1383.0,1330.4 L1384.0,1331.8 L1385.0,1330.9 L1386.0,1333.6 L1387.0,1333.2 L1388.0,1333.5 L1388.3,1333.1 L1389.0,1334.3 L1390.0,1332.9 L1391.0,1333.7 L1392.0,1333.3 L1393.0,1332.5 L1394.0,1333.3 L1395.0,1333.8 L1396.0,1333.2 L1397.0,1333.2 L1398.0,1333.5 L1399.0,1333.0 L1400.0,1332.9 L1401.0,1333.6 L1402.0,1333.0 L1403.0,1333.9 L1404.0,1334.1 L1405.0,1334.4 L1406.0,1334.3 L1407.0,1333.5 L1408.0,1334.0 L1409.0,1333.1 L1410.0,1334.0 L1411.0,1333.5 L1412.0,1334.6 L1413.0,1333.4 L1414.0,1334.0 L1415.0,1333.4 L1416.0,1334.3 L1417.0,1334.3 L1418.0,1333.3 L1419.0,1335.1 L1420.0,1334.3 L1421.0,1333.1 L1422.0,1333.5 L1423.0,1332.9 L1424.0,1332.8 L1425.0,1334.0 L1426.0,1332.8 L1427.0,1334.3 L1428.0,1333.1 L1429.0,1333.9 L1430.0,1335.1 L1431.0,1333.9 L1432.0,1334.1 L1433.0,1334.9 L1434.0,1333.9 L1435.0,1334.4 L1436.0,1333.7 L1437.0,1333.9 L1438.0,1334.2 L1439.0,1334.2 L1440.0,1333.7 L1441.0,1334.3 L1442.0,1334.5 L1443.0,1334.6 L1444.0,1334.2 L1445.0,1333.6 L1446.0,1334.6 L1447.0,1334.7 L1448.0,1333.6 L1449.0,1332.8 L1450.0,1334.1 L1451.0,1334.8 L1452.0,1334.7 L1453.0,1333.5 L1454.0,1335.0 L1455.0,1333.7 L1456.0,1334.7 L1457.0,1333.9 L1458.0,1334.8 L1459.0,1334.5 L1459.3,1334.1" fill="none" stroke="#0000ff" stroke-width="6.0" stroke-linejoin="round"/><path d="M166.5,1756.5 L167.0,1755.1 L167.5,1755.4 L168.0,1755.5 L168.5,1754.9 L169.0,1756.8 L169.5,1756.8 L170.0,1755.8 L170.5,1754.8 L171.0,1756.3 L171.5,1756.1 L172.0,1756.4 L172.5,1755.8 L173.0,1755.6 L173.5,1757.2 L174.0,1755.2 L174.5,1755.6 L175.0,1753.9 L175.5,1755.4 L176.0,1755.3 L176.5,1755.4 L177.0,1756.4 L177.5,1755.2 L178.0,1756.2 L178.5,1755.4 L179.0,1755.3 L179.5,1753.9 L180.0,1756.2 L180.5,1756.5 L181.0,1754.8 L181.5,1755.2 L182.0,1753.9 L182.5,1755.4 L183.0,1754.7 L183.5,1756.2 L184.0,1755.7 L184.5,1756.4 L185.0,1755.0 L185.5,1754.1 L186.0,1755.7 L186.5,1755.2 L187.0,1757.7 L187.5,1756.1 L188.0,1757.3 L188.5,1756.4 L189.0,1755.5 L189.5,1754.3 L189.8,1755.6 L190.0,1756.5 L190.5,1756.0 L191.0,1756.3 L191.5,1756.4 L192.0,1754.7 L192.5,1756.5 L193.0,1755.5 L193.5,1756.4 L194.0,1758.0 L194.5,1754.7 L195.0,1756.7 L195.5,1757.5 L196.0,1758.4 L196.5,1757.5 L197.0,1756.8 L197.5,1758.7 L198.0,1758.6 L198.5,1756.4 L199.0,1758.5 L199.5,1756.9 L200.0,1756.1 L200.5,1758.0 L201.0,1758.3 L201.5,1757.2 L202.0,1761.5 L202.5,1758.4 L203.0,1760.3 L203.5,1760.8 L204.0,1762.5 L204.5,1760.0 L205.0,1762.1 L205.5,1759.4 L206.0,1760.6 L206.5,1760.3 L207.0,1759.8 L207.5,1761.3 L208.0,1763.0 L208.5,1763.4 L209.0,1762.0 L209.5,1760.2 L210.0,1760.6 L210.5,1762.2 L211.0,1762.3 L211.5,1762.3 L212.0,1761.6 L212.5,1761.0 L213.0,1762.5 L213.5,1762.1 L214.0,1763.7 L214.5,1761.6 L215.0,1763.3 L215.5,1763.9 L216.0,1764.6 L216.5,1764.7 L217.0,1761.7 L217.5,1761.6 L218.0,1763.0 L218.5,1762.0 L219.0,1760.5 L219.5,1764.6 L220.0,1763.7 L220.5,1764.3 L221.0,1763.5 L221.5,1764.6 L222.0,1763.7 L222.5,1763.6 L223.0,1765.5 L223.5,1762.3 L224.0,1764.1 L224.5,1761.9 L225.0,1765.2 L225.5,1763.4 L226.0,1762.4 L226.5,1761.8 L227.0,1763.5 L227.5,1765.8 L228.0,1764.2 L228.5,1762.1 L229.0,1761.5 L229.5,1766.7 L230.0,1763.1 L230.5,1762.2 L231.0,1763.8 L231.5,1764.2 L232.0,1765.2 L232.5,1763.4 L233.0,1762.9 L233.5,1764.2 L234.0,1762.8 L234.5,1763.9 L235.0,1763.7 L235.5,1764.3 L236.0,1762.9 L236.5,1762.9 L237.0,1763.6 L237.5,1763.7 L238.0,1762.2 L238.5,1762.7 L239.0,1763.4 L239.5,1762.9 L240.0,1764.6 L240.5,1763.5 L241.0,1763.8 L241.5,1762.9 L242.0,1763.0 L242.5,1762.9 L243.0,1763.4 L243.5,1762.4 L244.0,1762.9 L244.5,1761.1 L245.0,1761.2 L245.5,1760.1 L246.0,1759.2 L247.0,1759.2 L248.0,1758.6 L249.0,1757.8 L250.0,1757.2 L251.0,1757.7 L252.0,1756.8 L253.0,1757.2 L254.0,1756.4 L255.0,1756.7 L256.0,1756.2 L257.0,1756.4 L258.0,1757.1 L259.0,1757.1 L260.0,1756.1 L261.0,1756.2 L262.0,1755.5 L263.0,1756.4 L264.0,1756.7 L265.0,1755.8 L266.0,1755.8 L267.0,1756.3 L268.0,1755.9 L269.0,1756.1 L270.0,1756.7 L271.0,1755.9 L272.0,1755.1 L273.0,1754.4 L274.0,1752.1 L275.0,1749.7 L276.0,1745.0 L276.5,1741.7 L277.0,1738.7 L278.0,1723.3 L278.2,1720.0 L279.0,1690.1 L279.2,1679.6 L279.8,1629.4 L280.0,1617.1 L280.6,1588.2 L281.0,1577.2 L281.5,1568.6 L282.0,1576.7 L282.4,1587.8 L283.0,1617.9 L283.2,1629.9 L284.0,1680.1 L284.8,1715.9 L285.0,1722.3 L286.0,1746.0 L287.0,1754.8 L288.0,1760.2 L289.0,1762.1 L290.0,1765.1 L291.0,1765.8 L292.0,1767.0 L293.0,1767.5 L294.0,1768.5 L295.0,1768.7 L296.0,1769.0 L297.0,1769.3 L297.4,1769.8 L298.0,1770.1 L299.0,1770.6 L300.0,1771.3 L301.0,1771.5 L302.0,1770.6 L303.0,1770.7 L304.0,1771.5 L305.0,1770.9 L306.0,1772.0 L307.0,1772.1 L308.0,1771.3 L309.0,1772.2 L310.0,1772.6 L311.0,1772.2 L312.0,1772.0 L313.0,1772.1 L314.0,1772.4 L315.0,1772.0 L316.0,1772.5 L317.0,1772.3 L318.0,1772.1 L319.0,1772.0 L320.0,1772.7 L320.3,1772.0 L321.0,1772.5 L322.0,1771.6 L323.0,1772.3 L324.0,1772.5 L325.0,1772.6 L326.0,1772.8 L327.0,1772.6 L328.0,1772.6 L329.0,1772.2 L330.0,1771.9 L331.0,1771.8 L332.0,1772.0 L333.0,1772.4 L334.0,1772.7 L335.0,1772.4 L336.0,1772.4 L337.0,1772.6 L338.0,1772.1 L339.0,1772.3 L340.0,1772.1 L341.0,1772.3 L342.0,1772.0 L343.0,1771.5 L344.0,1771.9 L345.0,1771.7 L346.0,1772.8 L347.0,1772.7 L348.0,1771.7 L349.0,1771.6 L350.0,1771.9 L351.0,1771.2 L352.0,1772.4 L353.0,1771.8 L354.0,1771.6 L355.0,1772.3 L356.0,1772.3 L357.0,1771.8 L358.0,1772.2 L359.0,1771.0 L360.0,1771.3 L361.0,1771.3 L362.0,1770.9 L363.0,1772.0 L364.0,1772.6 L365.0,1771.0 L366.0,1771.3 L367.0,1772.0 L368.0,1771.3 L369.0,1771.4 L370.0,1771.1 L371.0,1771.6 L372.0,1771.0 L373.0,1771.7 L374.0,1771.6 L375.0,1771.5 L376.0,1771.0 L377.0,1771.2 L378.0,1771.5 L379.0,1770.9 L380.0,1770.8 L381.0,1770.2 L382.0,1771.0 L383.0,1771.2 L384.0,1771.6 L385.0,1770.7 L386.0,1770.6 L387.0,1771.7 L388.0,1771.7 L389.0,1770.7 L390.0,1771.0 L391.0,1770.4 L392.0,1771.2 L393.0,1771.8 L394.0,1771.6 L395.0,1770.8 L396.0,1771.5 L397.0,1771.1 L398.0,1771.6 L399.0,1771.2 L400.0,1771.8 L401.0,1772.2 L402.0,1771.8 L403.0,1771.9 L404.0,1772.0 L405.0,1772.2 L406.0,1771.7 L407.0,1771.9 L408.0,1772.0 L409.0,1772.7 L410.0,1772.3 L411.0,1772.5 L412.0,1772.2 L413.0,1771.8 L414.0,1772.4 L415.0,1772.8 L416.0,1772.5 L417.0,1772.5 L418.0,1772.6 L419.0,1773.1 L420.0,1773.1 L421.0,1773.0 L422.0,1772.7 L423.0,1772.8 L424.0,1774.8 L425.0,1773.2 L426.0,1773.6 L427.0,1773.5 L428.0,1772.8 L429.0,1774.0 L430.0,1773.5 L431.0,1773.1 L432.0,1773.8 L433.0,1773.2 L434.0,1773.6 L434.7,1772.9 L435.0,1773.4 L436.0,1773.8 L437.0,1773.3 L438.0,1772.9 L439.0,1773.1 L440.0,1773.8 L441.0,1772.8 L442.0,1772.9 L443.0,1773.8 L444.0,1773.5 L445.0,1773.5 L446.0,1773.3 L447.0,1773.6 L448.0,1773.8 L449.0,1773.6 L450.0,1772.7 L451.0,1773.7 L452.0,1772.7 L453.0,1774.2 L454.0,1773.2 L455.0,1773.6 L456.0,1773.5 L457.0,1773.1 L458.0,1773.9 L459.0,1773.4 L460.0,1774.2 L461.0,1773.6 L462.0,1773.4 L463.0,1774.3 L464.0,1773.8 L465.0,1773.2 L466.0,1772.8 L467.0,1773.9 L468.0,1773.6 L469.0,1773.6 L470.0,1772.8 L471.0,1772.7 L472.0,1772.5 L473.0,1773.4 L474.0,1772.7 L475.0,1773.0 L476.0,1771.7 L477.0,1773.1 L478.0,1772.3 L479.0,1771.3 L480.0,1771.9 L480.5,1772.6 L481.0,1772.8 L482.0,1768.9 L483.0,1766.3 L483.5,1765.1 L484.0,1760.6 L485.0,1750.3 L485.5,1747.8 L486.0,1750.4 L487.0,1760.2 L487.5,1764.8 L488.0,1767.3 L489.0,1772.3 L489.7,1773.5 L490.0,1773.9 L491.0,1773.6 L492.0,1774.4 L493.0,1772.9 L494.0,1773.5 L495.0,1774.0 L496.0,1773.7 L497.0,1772.5 L498.0,1773.9 L499.0,1773.6 L500.0,1774.9 L501.0,1773.8 L502.0,1774.2 L503.0,1773.4 L504.0,1774.2 L505.0,1772.7 L506.0,1773.5 L507.0,1773.8 L508.0,1773.2 L509.0,1774.4 L510.0,1774.0 L511.0,1774.8 L512.0,1773.4 L513.0,1773.7 L514.0,1774.3 L515.0,1773.8 L516.0,1774.5 L517.0,1774.4 L518.0,1773.8 L519.0,1774.2 L520.0,1774.4 L521.0,1774.2 L522.0,1774.0 L523.0,1773.9 L524.0,1774.1 L525.0,1774.6 L526.0,1775.1 L527.0,1773.5 L528.0,1773.7 L529.0,1774.1 L530.0,1774.9 L531.0,1773.8 L532.0,1775.3 L533.0,1775.2 L534.0,1773.1 L535.0,1774.5 L536.0,1774.5 L537.0,1774.0 L538.0,1773.4 L539.0,1774.4 L540.0,1774.1 L541.0,1774.8 L542.0,1774.5 L543.0,1773.8 L544.0,1775.2 L545.0,1775.1 L546.0,1775.0 L547.0,1774.3 L548.0,1774.7 L549.0,1774.4 L550.0,1774.1 L551.0,1773.5 L552.0,1774.5 L553.0,1773.4 L554.0,1774.7 L555.0,1773.7 L556.0,1774.5 L557.0,1774.2 L558.0,1773.8 L559.0,1773.9 L560.0,1774.1 L561.0,1775.1 L562.0,1774.6 L563.0,1774.3 L564.0,1774.8 L565.0,1773.9 L566.0,1773.8 L567.0,1774.0 L568.0,1774.9 L569.0,1774.3 L570.0,1774.5 L571.0,1774.6 L571.6,1774.3 L572.0,1775.1 L573.0,1774.9 L574.0,1774.2 L575.0,1774.1 L576.0,1774.6 L577.0,1774.2 L578.0,1774.6 L579.0,1775.0 L580.0,1774.7 L581.0,1774.8 L582.0,1774.5 L583.0,1774.4 L584.0,1774.3 L585.0,1775.4 L586.0,1774.5 L587.0,1774.9 L588.0,1774.9 L589.0,1775.1 L590.0,1774.8 L591.0,1774.2 L592.0,1775.9 L593.0,1774.5 L594.0,1775.3 L595.0,1774.6 L596.0,1775.4 L597.0,1774.7 L598.0,1776.0 L599.0,1775.4 L600.0,1774.5 L601.0,1776.1 L602.0,1774.4 L603.0,1775.2 L604.0,1775.9 L605.0,1775.2 L606.0,1776.0 L607.0,1775.5 L608.0,1775.2 L609.0,1776.1 L610.0,1775.6 L611.0,1775.4 L612.0,1776.1 L613.0,1775.6 L614.0,1775.1 L615.0,1775.4 L616.0,1776.9 L617.0,1776.9 L618.0,1775.1 L619.0,1776.3 L620.0,1776.5 L621.0,1775.8 L622.0,1776.3 L623.0,1775.5 L624.0,1775.9 L625.0,1776.6 L626.0,1776.1 L627.0,1776.1 L628.0,1776.0 L629.0,1775.6 L630.0,1775.8 L631.0,1776.0 L632.0,1776.2 L633.0,1775.9 L634.0,1777.2 L635.0,1775.5 L636.0,1775.9 L637.0,1776.1 L638.0,1776.7 L639.0,1775.8 L640.0,1776.6 L641.0,1776.1 L642.0,1776.2 L643.0,1776.8 L644.0,1777.0 L645.0,1777.1 L646.0,1776.1 L647.0,1777.1 L648.0,1777.1 L649.0,1776.8 L650.0,1776.9 L651.0,1776.7 L652.0,1776.6 L653.0,1777.1 L654.0,1777.5 L655.0,1776.6 L656.0,1776.9 L657.0,1777.2 L658.0,1776.1 L659.0,1777.5 L660.0,1777.0 L661.0,1777.5 L662.0,1776.7 L663.0,1776.4 L663.2,1776.7 L664.0,1776.9 L665.0,1776.4 L666.0,1777.2 L667.0,1776.9 L668.0,1776.3 L669.0,1777.0 L670.0,1776.7 L671.0,1776.8 L672.0,1776.6 L673.0,1776.5 L674.0,1776.3 L675.0,1776.9 L676.0,1776.8 L677.0,1777.0 L678.0,1776.5 L679.0,1777.0 L680.0,1777.2 L681.0,1776.3 L682.0,1776.9 L683.0,1777.8 L684.0,1776.6 L685.0,1776.7 L686.0,1776.8 L687.0,1776.6 L688.0,1777.2 L689.0,1776.8 L690.0,1776.8 L691.0,1776.4 L692.0,1777.1 L693.0,1776.8 L694.0,1776.6 L695.0,1776.7 L696.0,1777.5 L697.0,1776.8 L698.0,1776.9 L699.0,1777.4 L700.0,1776.8 L701.0,1777.2 L702.0,1776.3 L703.0,1777.1 L704.0,1775.8 L705.0,1776.9 L706.0,1776.6 L707.0,1776.5 L708.0,1777.3 L709.0,1777.1 L710.0,1777.2 L711.0,1777.5 L712.0,1777.0 L713.0,1777.1 L714.0,1776.8 L715.0,1777.7 L716.0,1777.2 L717.0,1776.4 L718.0,1776.4 L719.0,1776.5 L720.0,1776.5 L721.0,1777.4 L722.0,1776.9 L723.0,1777.3 L724.0,1776.4 L725.0,1776.4 L726.0,1777.4 L727.0,1775.9 L728.0,1776.2 L729.0,1775.8 L730.0,1776.5 L731.0,1778.0 L732.0,1776.4 L733.0,1777.3 L734.0,1777.5 L735.0,1776.5 L736.0,1776.5 L737.0,1776.9 L738.0,1777.1 L739.0,1776.1 L740.0,1776.4 L741.0,1777.5 L742.0,1776.4 L743.0,1777.0 L744.0,1777.3 L745.0,1776.6 L746.0,1776.7 L747.0,1776.5 L748.0,1776.5 L749.0,1776.5 L750.0,1776.0 L751.0,1776.6 L752.0,1776.7 L753.0,1777.1 L754.0,1776.6 L755.0,1776.5 L756.0,1777.7 L757.0,1776.8 L758.0,1776.7 L759.0,1776.6 L760.0,1776.8 L761.0,1776.4 L762.0,1776.6 L763.0,1776.4 L764.0,1776.2 L765.0,1776.6 L766.0,1776.2 L767.0,1777.6 L768.0,1776.3 L769.0,1777.6 L770.0,1776.9 L771.0,1777.2 L772.0,1777.5 L773.0,1776.0 L774.0,1777.5 L775.0,1777.0 L776.0,1776.6 L777.0,1776.5 L778.0,1777.0 L779.0,1776.1 L780.0,1777.6 L781.0,1776.7 L782.0,1777.2 L783.0,1776.9 L784.0,1776.6 L785.0,1776.6 L786.0,1776.4 L787.0,1777.4 L788.0,1776.8 L789.0,1777.1 L790.0,1776.7 L791.0,1775.9 L792.0,1774.5 L793.0,1773.5 L794.0,1771.3 L794.2,1770.9 L795.0,1770.4 L796.0,1769.4 L797.0,1768.3 L798.0,1767.0 L798.2,1766.5 L799.0,1762.0 L800.0,1751.3 L801.0,1740.3 L802.0,1723.7 L803.0,1708.7 L803.4,1706.5 L804.0,1709.6 L805.0,1724.6 L806.0,1739.7 L807.0,1752.4 L808.0,1763.8 L808.5,1766.5 L809.0,1768.6 L810.0,1771.0 L811.0,1772.6 L812.0,1775.5 L813.0,1776.7 L814.0,1775.9 L814.2,1776.2 L815.0,1776.9 L816.0,1776.5 L817.0,1775.6 L818.0,1776.6 L819.0,1776.0 L820.0,1775.9 L821.0,1775.6 L822.0,1773.4 L823.0,1771.7 L824.0,1769.6 L825.0,1766.1 L826.0,1763.4 L826.3,1763.7 L827.0,1764.3 L828.0,1768.0 L829.0,1770.6 L829.5,1771.9 L830.0,1773.1 L831.0,1773.5 L832.0,1774.5 L833.0,1775.5 L834.0,1775.6 L835.0,1775.2 L836.0,1774.8 L837.0,1775.9 L838.0,1775.0 L839.0,1775.1 L840.0,1773.6 L841.0,1772.1 L842.0,1768.2 L843.0,1763.9 L844.0,1759.6 L845.0,1759.4 L846.0,1760.9 L847.0,1766.2 L848.0,1770.9 L849.0,1774.7 L850.0,1773.8 L851.0,1775.8 L852.0,1775.1 L853.0,1775.3 L854.0,1775.2 L855.0,1775.3 L856.0,1772.2 L857.0,1769.6 L858.0,1765.2 L859.0,1759.1 L860.0,1752.1 L861.0,1746.1 L861.9,1744.7 L862.0,1745.2 L863.0,1748.8 L864.0,1756.5 L865.0,1764.2 L866.0,1770.7 L867.0,1772.8 L868.0,1774.0 L869.0,1775.7 L870.0,1775.4 L871.0,1776.8 L872.0,1776.0 L873.0,1776.4 L874.0,1777.0 L875.0,1775.7 L876.0,1776.6 L877.0,1775.9 L878.0,1775.4 L879.0,1776.3 L880.0,1775.8 L881.0,1775.1 L882.0,1775.4 L883.0,1774.7 L884.0,1774.3 L885.0,1774.2 L886.0,1774.6 L886.5,1773.3 L887.0,1773.2 L888.0,1773.7 L889.0,1772.1 L890.0,1771.8 L891.0,1770.8 L892.0,1769.2 L893.0,1768.2 L894.0,1767.0 L894.7,1765.9 L895.0,1765.7 L896.0,1763.4 L897.0,1760.7 L898.0,1756.5 L899.0,1751.3 L899.6,1748.3 L900.0,1745.2 L901.0,1733.8 L902.0,1715.8 L902.5,1704.9 L903.0,1686.6 L904.0,1639.3 L905.0,1614.4 L905.5,1599.7 L906.0,1578.7 L907.0,1529.8 L908.0,1482.5 L908.4,1473.6 L909.0,1483.0 L910.0,1509.0 L911.0,1528.2 L911.9,1550.8 L912.0,1553.7 L913.0,1617.5 L913.5,1655.7 L914.0,1703.1 L914.3,1721.8 L915.0,1732.8 L916.0,1743.1 L917.0,1749.7 L918.0,1752.8 L918.4,1754.5 L919.0,1755.4 L920.0,1759.4 L921.0,1762.2 L922.0,1764.9 L923.0,1766.8 L924.0,1767.9 L924.1,1767.5 L925.0,1768.0 L926.0,1768.9 L927.0,1769.6 L928.0,1770.3 L929.0,1771.4 L930.0,1771.3 L931.0,1771.1 L932.0,1771.7 L933.0,1773.9 L934.0,1773.6 L935.0,1773.1 L935.6,1773.4 L936.0,1773.9 L937.0,1774.1 L938.0,1774.4 L939.0,1773.7 L940.0,1774.2 L941.0,1775.2 L942.0,1775.7 L943.0,1775.8 L944.0,1776.6 L945.0,1776.1 L946.0,1776.4 L947.0,1776.4 L948.0,1777.0 L949.0,1776.3 L950.0,1777.5 L951.0,1776.1 L952.0,1776.9 L953.0,1776.9 L954.0,1777.2 L955.0,1776.0 L956.0,1776.0 L957.0,1776.2 L958.0,1776.6 L959.0,1776.5 L960.0,1774.8 L961.0,1774.6 L962.0,1771.6 L963.0,1766.7 L964.0,1760.2 L965.0,1743.7 L966.0,1720.0 L967.0,1688.0 L967.9,1671.9 L968.0,1670.6 L969.0,1691.5 L970.0,1719.6 L971.0,1744.1 L972.0,1759.5 L973.0,1765.3 L974.0,1768.5 L975.0,1770.9 L976.0,1772.5 L977.0,1773.4 L978.0,1773.6 L979.0,1774.8 L980.0,1775.3 L981.0,1776.0 L982.0,1776.1 L983.0,1775.2 L984.0,1776.4 L985.0,1776.6 L986.0,1776.4 L987.0,1776.3 L988.0,1776.6 L989.0,1776.3 L990.0,1776.9 L991.0,1777.1 L992.0,1776.6 L993.0,1777.0 L994.0,1776.0 L995.0,1776.1 L996.0,1776.4 L997.0,1776.1 L998.0,1776.6 L999.0,1776.6 L1000.0,1777.3 L1001.0,1776.3 L1002.0,1777.1 L1003.0,1776.1 L1004.0,1776.5 L1005.0,1776.9 L1006.0,1776.7 L1007.0,1775.5 L1008.0,1776.6 L1009.0,1776.8 L1010.0,1775.9 L1011.0,1776.4 L1012.0,1776.4 L1013.0,1776.8 L1014.0,1777.1 L1015.0,1776.0 L1016.0,1776.2 L1017.0,1777.3 L1018.0,1777.1 L1019.0,1777.3 L1020.0,1776.5 L1021.0,1776.9 L1022.0,1775.4 L1023.0,1776.6 L1024.0,1775.9 L1025.0,1775.6 L1026.0,1775.7 L1027.0,1776.5 L1028.0,1776.6 L1029.0,1775.6 L1030.0,1775.5 L1031.0,1775.4 L1032.0,1772.9 L1033.0,1771.5 L1034.0,1770.4 L1034.5,1770.4 L1035.0,1770.0 L1036.0,1770.2 L1037.0,1773.2 L1038.0,1775.3 L1039.0,1775.5 L1040.0,1775.4 L1041.0,1775.3 L1042.0,1775.9 L1043.0,1775.8 L1044.0,1775.8 L1045.0,1775.7 L1046.0,1776.3 L1047.0,1775.8 L1048.0,1775.7 L1049.0,1775.2 L1050.0,1775.5 L1051.0,1775.7 L1052.0,1776.3 L1053.0,1775.9 L1054.0,1775.5 L1055.0,1776.0 L1056.0,1776.0 L1057.0,1775.5 L1058.0,1775.9 L1059.0,1775.2 L1060.0,1775.7 L1061.0,1776.6 L1062.0,1776.1 L1063.0,1776.0 L1064.0,1776.1 L1065.0,1776.0 L1066.0,1775.2 L1067.0,1775.5 L1068.0,1775.4 L1069.0,1775.9 L1070.0,1776.1 L1071.0,1776.6 L1072.0,1775.6 L1073.0,1775.2 L1074.0,1775.8 L1075.0,1775.7 L1076.0,1775.8 L1077.0,1775.7 L1078.0,1775.9 L1079.0,1775.5 L1080.0,1775.8 L1081.0,1776.1 L1082.0,1775.8 L1083.0,1776.0 L1084.0,1775.4 L1085.0,1776.1 L1086.0,1775.7 L1087.0,1775.4 L1088.0,1775.6 L1089.0,1775.5 L1090.0,1775.6 L1091.0,1775.5 L1092.0,1776.5 L1093.0,1776.1 L1094.0,1775.9 L1095.0,1775.9 L1096.0,1775.7 L1097.0,1776.1 L1098.0,1775.6 L1099.0,1775.7 L1100.0,1775.4 L1100.3,1776.2 L1101.0,1776.0 L1102.0,1774.9 L1103.0,1773.4 L1104.0,1769.9 L1104.5,1770.0 L1105.0,1769.3 L1106.0,1765.8 L1107.0,1761.1 L1107.5,1760.1 L1108.0,1758.3 L1109.0,1753.4 L1109.7,1751.8 L1110.0,1752.4 L1111.0,1755.6 L1112.0,1762.1 L1113.0,1765.4 L1114.0,1769.0 L1115.0,1771.9 L1116.0,1774.4 L1117.0,1777.1 L1117.9,1776.8 L1118.0,1777.1 L1119.0,1776.2 L1120.0,1776.9 L1121.0,1776.3 L1122.0,1777.5 L1123.0,1777.2 L1124.0,1776.9 L1125.0,1777.6 L1126.0,1776.7 L1127.0,1777.1 L1128.0,1776.8 L1129.0,1776.8 L1130.0,1777.1 L1131.0,1776.9 L1132.0,1777.1 L1133.0,1776.7 L1134.0,1776.5 L1135.0,1777.8 L1136.0,1777.3 L1137.0,1777.0 L1138.0,1777.3 L1139.0,1776.7 L1140.0,1777.3 L1141.0,1776.5 L1142.0,1777.4 L1143.0,1777.3 L1144.0,1777.1 L1145.0,1777.5 L1146.0,1777.1 L1147.0,1777.9 L1148.0,1777.5 L1149.0,1776.5 L1150.0,1776.7 L1151.0,1777.9 L1152.0,1776.9 L1153.0,1777.3 L1154.0,1776.9 L1155.0,1777.9 L1156.0,1777.7 L1157.0,1777.5 L1158.0,1777.0 L1159.0,1777.1 L1160.0,1777.8 L1161.0,1777.0 L1162.0,1776.2 L1163.0,1777.9 L1164.0,1777.6 L1165.0,1776.6 L1166.0,1777.3 L1167.0,1777.5 L1168.0,1777.3 L1169.0,1777.9 L1170.0,1777.8 L1171.0,1776.9 L1172.0,1777.1 L1173.0,1777.6 L1174.0,1777.6 L1175.0,1777.1 L1176.0,1777.7 L1177.0,1776.8 L1178.0,1777.6 L1179.0,1776.4 L1180.0,1777.4 L1181.0,1778.1 L1182.0,1777.9 L1183.0,1776.8 L1184.0,1775.9 L1185.0,1777.3 L1185.2,1777.7 L1186.0,1776.7 L1187.0,1775.0 L1188.0,1771.9 L1189.0,1769.7 L1190.0,1767.4 L1191.0,1766.4 L1191.1,1766.8 L1192.0,1768.4 L1193.0,1770.2 L1194.0,1772.5 L1195.0,1775.4 L1196.0,1776.6 L1197.0,1777.4 L1198.0,1778.3 L1199.0,1777.9 L1199.9,1778.8 L1200.0,1778.4 L1201.0,1779.2 L1202.0,1778.3 L1203.0,1778.8 L1204.0,1778.3 L1205.0,1778.9 L1206.0,1777.9 L1207.0,1778.4 L1208.0,1778.3 L1209.0,1778.0 L1210.0,1778.5 L1211.0,1778.6 L1212.0,1778.4 L1213.0,1778.2 L1214.0,1778.3 L1215.0,1778.3 L1216.0,1779.1 L1217.0,1778.9 L1218.0,1779.2 L1219.0,1779.0 L1220.0,1779.4 L1221.0,1778.7 L1222.0,1778.8 L1223.0,1778.7 L1224.0,1778.4 L1225.0,1778.9 L1226.0,1778.8 L1227.0,1778.8 L1228.0,1778.7 L1229.0,1779.0 L1230.0,1778.0 L1231.0,1778.8 L1232.0,1778.5 L1233.0,1778.3 L1234.0,1778.4 L1235.0,1778.7 L1236.0,1778.8 L1237.0,1778.4 L1238.0,1778.8 L1239.0,1778.6 L1240.0,1778.9 L1241.0,1778.8 L1242.0,1778.7 L1243.0,1778.2 L1244.0,1777.8 L1245.0,1778.9 L1246.0,1777.9 L1247.0,1778.6 L1248.0,1778.2 L1249.0,1778.9 L1250.0,1778.1 L1251.0,1778.0 L1252.0,1777.2 L1253.0,1778.3 L1254.0,1778.0 L1255.0,1777.7 L1256.0,1777.8 L1257.0,1778.5 L1258.0,1778.0 L1259.0,1778.2 L1260.0,1777.7 L1261.0,1777.9 L1262.0,1778.1 L1263.0,1777.5 L1264.0,1778.2 L1265.0,1777.4 L1266.0,1778.3 L1267.0,1777.2 L1268.0,1777.2 L1269.0,1777.4 L1270.0,1777.1 L1270.2,1777.2 L1271.0,1776.9 L1272.0,1776.1 L1273.0,1773.3 L1274.0,1771.4 L1275.0,1768.4 L1276.0,1763.6 L1277.0,1757.5 L1277.5,1755.9 L1278.0,1751.4 L1279.0,1747.5 L1279.6,1746.5 L1280.0,1747.2 L1281.0,1750.9 L1282.0,1756.5 L1283.0,1762.1 L1284.0,1768.4 L1284.5,1769.8 L1285.0,1771.9 L1286.0,1775.3 L1287.0,1776.4 L1287.8,1777.4 L1288.0,1776.7 L1289.0,1777.4 L1290.0,1776.9 L1291.0,1777.5 L1292.0,1776.8 L1293.0,1777.3 L1294.0,1776.8 L1295.0,1777.2 L1296.0,1777.4 L1297.0,1778.3 L1298.0,1777.4 L1299.0,1777.5 L1300.0,1778.1 L1301.0,1777.7 L1302.0,1776.8 L1303.0,1777.5 L1304.0,1777.3 L1305.0,1777.6 L1306.0,1777.5 L1307.0,1776.5 L1308.0,1777.0 L1309.0,1778.0 L1310.0,1777.6 L1311.0,1776.9 L1312.0,1777.0 L1313.0,1777.1 L1314.0,1776.6 L1315.0,1775.7 L1316.0,1777.4 L1317.0,1776.7 L1318.0,1776.9 L1319.0,1776.8 L1320.0,1777.0 L1321.0,1777.0 L1322.0,1777.9 L1323.0,1777.0 L1324.0,1777.4 L1325.0,1777.2 L1326.0,1777.8 L1327.0,1777.2 L1328.0,1776.3 L1329.0,1778.0 L1330.0,1777.9 L1331.0,1777.5 L1332.0,1776.5 L1333.0,1777.8 L1334.0,1777.3 L1335.0,1776.8 L1336.0,1776.9 L1337.0,1777.7 L1338.0,1776.9 L1339.0,1777.1 L1340.0,1776.8 L1341.0,1777.4 L1342.0,1776.8 L1343.0,1777.4 L1344.0,1777.0 L1345.0,1778.1 L1346.0,1777.0 L1347.0,1777.2 L1348.0,1777.6 L1349.0,1777.6 L1349.3,1776.5 L1350.0,1777.0 L1351.0,1776.1 L1352.0,1774.3 L1353.0,1771.3 L1354.0,1768.8 L1355.0,1765.0 L1355.1,1763.8 L1356.0,1756.2 L1357.0,1744.9 L1357.5,1740.3 L1358.0,1736.0 L1359.0,1726.9 L1359.5,1725.7 L1360.0,1726.6 L1361.0,1735.7 L1362.0,1745.5 L1363.0,1752.3 L1364.0,1757.6 L1365.0,1761.6 L1365.4,1762.5 L1366.0,1764.6 L1367.0,1765.9 L1368.0,1766.7 L1369.0,1767.4 L1370.0,1768.2 L1371.0,1769.3 L1372.0,1770.9 L1373.0,1770.7 L1374.0,1771.4 L1375.0,1772.4 L1376.0,1772.9 L1377.0,1774.1 L1378.0,1773.8 L1379.0,1774.8 L1380.0,1774.9 L1381.0,1776.0 L1381.5,1775.8 L1382.0,1775.6 L1383.0,1776.0 L1384.0,1776.5 L1385.0,1777.5 L1386.0,1777.3 L1387.0,1777.5 L1388.0,1777.2 L1389.0,1777.1 L1390.0,1777.3 L1391.0,1777.9 L1392.0,1778.6 L1393.0,1778.5 L1394.0,1779.1 L1395.0,1778.2 L1396.0,1778.6 L1396.1,1778.6 L1397.0,1778.2 L1398.0,1777.7 L1399.0,1778.3 L1400.0,1779.1 L1401.0,1777.9 L1402.0,1779.1 L1403.0,1779.1 L1404.0,1778.6 L1405.0,1778.8 L1406.0,1778.6 L1407.0,1778.7 L1408.0,1779.3 L1409.0,1779.2 L1410.0,1779.1 L1411.0,1778.8 L1412.0,1778.6 L1413.0,1778.8 L1414.0,1778.1 L1415.0,1778.3 L1416.0,1778.7 L1417.0,1777.9 L1418.0,1778.7 L1419.0,1778.6 L1420.0,1778.6 L1421.0,1778.6 L1422.0,1778.4 L1423.0,1779.6 L1424.0,1777.8 L1425.0,1778.3 L1426.0,1777.9 L1427.0,1778.8 L1428.0,1779.1 L1429.0,1779.5 L1430.0,1778.3 L1431.0,1779.0 L1432.0,1778.3 L1433.0,1778.6 L1434.0,1779.0 L1435.0,1778.0 L1436.0,1778.6 L1437.0,1778.4 L1438.0,1778.8 L1439.0,1779.0 L1440.0,1778.0 L1441.0,1778.6 L1442.0,1778.0 L1443.0,1777.6 L1444.0,1778.2 L1445.0,1778.4 L1446.0,1778.1 L1447.0,1778.1 L1448.0,1779.2 L1449.0,1778.7 L1450.0,1779.1 L1451.0,1779.3 L1452.0,1778.7 L1453.0,1779.8 L1454.0,1778.9 L1455.0,1778.7 L1456.0,1778.3 L1457.0,1778.5 L1457.6,1778.8" fill="none" stroke="#000000" stroke-width="4.8" stroke-linejoin="round"/><rect x="163.8" y="38.2" width="1300.7" height="2.8" fill="#c4c4c4"/><path d="M187.25,485.2v-9 M208.50,485.2v-9 M229.75,485.2v-9 M251.00,485.2v-9 M272.25,485.2v-9 M293.50,485.2v-19 M314.75,485.2v-9 M336.00,485.2v-9 M357.25,485.2v-9 M378.50,485.2v-9 M399.75,485.2v-9 M421.00,485.2v-9 M442.25,485.2v-9 M463.50,485.2v-9 M484.75,485.2v-9 M506.00,485.2v-19 M527.25,485.2v-9 M548.50,485.2v-9 M569.75,485.2v-9 M591.00,485.2v-9 M612.25,485.2v-9 M633.50,485.2v-9 M654.75,485.2v-9 M676.00,485.2v-9 M697.25,485.2v-9 M718.50,485.2v-19 M739.75,485.2v-9 M761.00,485.2v-9 M782.25,485.2v-9 M803.50,485.2v-9 M824.75,485.2v-9 M846.00,485.2v-9 M867.25,485.2v-9 M888.50,485.2v-9 M909.75,485.2v-9 M931.00,485.2v-19 M952.25,485.2v-9 M973.50,485.2v-9 M994.75,485.2v-9 M1016.00,485.2v-9 M1037.25,485.2v-9 M1058.50,485.2v-9 M1079.75,485.2v-9 M1101.00,485.2v-9 M1122.25,485.2v-9 M1143.50,485.2v-19 M1164.75,485.2v-9 M1186.00,485.2v-9 M1207.25,485.2v-9 M1228.50,485.2v-9 M1249.75,485.2v-9 M1271.00,485.2v-9 M1292.25,485.2v-9 M1313.50,485.2v-9 M1334.75,485.2v-9 M1356.00,485.2v-19 M1377.25,485.2v-9 M1398.50,485.2v-9 M1419.75,485.2v-9 M1441.00,485.2v-9 M187.25,928.0v-9 M208.50,928.0v-9 M229.75,928.0v-9 M251.00,928.0v-9 M272.25,928.0v-9 M293.50,928.0v-19 M314.75,928.0v-9 M336.00,928.0v-9 M357.25,928.0v-9 M378.50,928.0v-9 M399.75,928.0v-9 M421.00,928.0v-9 M442.25,928.0v-9 M463.50,928.0v-9 M484.75,928.0v-9 M506.00,928.0v-19 M527.25,928.0v-9 M548.50,928.0v-9 M569.75,928.0v-9 M591.00,928.0v-9 M612.25,928.0v-9 M633.50,928.0v-9 M654.75,928.0v-9 M676.00,928.0v-9 M697.25,928.0v-9 M718.50,928.0v-19 M739.75,928.0v-9 M761.00,928.0v-9 M782.25,928.0v-9 M803.50,928.0v-9 M824.75,928.0v-9 M846.00,928.0v-9 M867.25,928.0v-9 M888.50,928.0v-9 M909.75,928.0v-9 M931.00,928.0v-19 M952.25,928.0v-9 M973.50,928.0v-9 M994.75,928.0v-9 M1016.00,928.0v-9 M1037.25,928.0v-9 M1058.50,928.0v-9 M1079.75,928.0v-9 M1101.00,928.0v-9 M1122.25,928.0v-9 M1143.50,928.0v-19 M1164.75,928.0v-9 M1186.00,928.0v-9 M1207.25,928.0v-9 M1228.50,928.0v-9 M1249.75,928.0v-9 M1271.00,928.0v-9 M1292.25,928.0v-9 M1313.50,928.0v-9 M1334.75,928.0v-9 M1356.00,928.0v-19 M1377.25,928.0v-9 M1398.50,928.0v-9 M1419.75,928.0v-9 M1441.00,928.0v-9 M187.25,1372.5v-9 M208.50,1372.5v-9 M229.75,1372.5v-9 M251.00,1372.5v-9 M272.25,1372.5v-9 M293.50,1372.5v-19 M314.75,1372.5v-9 M336.00,1372.5v-9 M357.25,1372.5v-9 M378.50,1372.5v-9 M399.75,1372.5v-9 M421.00,1372.5v-9 M442.25,1372.5v-9 M463.50,1372.5v-9 M484.75,1372.5v-9 M506.00,1372.5v-19 M527.25,1372.5v-9 M548.50,1372.5v-9 M569.75,1372.5v-9 M591.00,1372.5v-9 M612.25,1372.5v-9 M633.50,1372.5v-9 M654.75,1372.5v-9 M676.00,1372.5v-9 M697.25,1372.5v-9 M718.50,1372.5v-19 M739.75,1372.5v-9 M761.00,1372.5v-9 M782.25,1372.5v-9 M803.50,1372.5v-9 M824.75,1372.5v-9 M846.00,1372.5v-9 M867.25,1372.5v-9 M888.50,1372.5v-9 M909.75,1372.5v-9 M931.00,1372.5v-19 M952.25,1372.5v-9 M973.50,1372.5v-9 M994.75,1372.5v-9 M1016.00,1372.5v-9 M1037.25,1372.5v-9 M1058.50,1372.5v-9 M1079.75,1372.5v-9 M1101.00,1372.5v-9 M1122.25,1372.5v-9 M1143.50,1372.5v-19 M1164.75,1372.5v-9 M1186.00,1372.5v-9 M1207.25,1372.5v-9 M1228.50,1372.5v-9 M1249.75,1372.5v-9 M1271.00,1372.5v-9 M1292.25,1372.5v-9 M1313.50,1372.5v-9 M1334.75,1372.5v-9 M1356.00,1372.5v-19 M1377.25,1372.5v-9 M1398.50,1372.5v-9 M1419.75,1372.5v-9 M1441.00,1372.5v-9 M187.25,1814.7v-9 M208.50,1814.7v-9 M229.75,1814.7v-9 M251.00,1814.7v-9 M272.25,1814.7v-9 M293.50,1814.7v-19 M314.75,1814.7v-9 M336.00,1814.7v-9 M357.25,1814.7v-9 M378.50,1814.7v-9 M399.75,1814.7v-9 M421.00,1814.7v-9 M442.25,1814.7v-9 M463.50,1814.7v-9 M484.75,1814.7v-9 M506.00,1814.7v-19 M527.25,1814.7v-9 M548.50,1814.7v-9 M569.75,1814.7v-9 M591.00,1814.7v-9 M612.25,1814.7v-9 M633.50,1814.7v-9 M654.75,1814.7v-9 M676.00,1814.7v-9 M697.25,1814.7v-9 M718.50,1814.7v-19 M739.75,1814.7v-9 M761.00,1814.7v-9 M782.25,1814.7v-9 M803.50,1814.7v-9 M824.75,1814.7v-9 M846.00,1814.7v-9 M867.25,1814.7v-9 M888.50,1814.7v-9 M909.75,1814.7v-9 M931.00,1814.7v-19 M952.25,1814.7v-9 M973.50,1814.7v-9 M994.75,1814.7v-9 M1016.00,1814.7v-9 M1037.25,1814.7v-9 M1058.50,1814.7v-9 M1079.75,1814.7v-9 M1101.00,1814.7v-9 M1122.25,1814.7v-9 M1143.50,1814.7v-19 M1164.75,1814.7v-9 M1186.00,1814.7v-9 M1207.25,1814.7v-9 M1228.50,1814.7v-9 M1249.75,1814.7v-9 M1271.00,1814.7v-9 M1292.25,1814.7v-9 M1313.50,1814.7v-9 M1334.75,1814.7v-9 M1356.00,1814.7v-19 M1377.25,1814.7v-9 M1398.50,1814.7v-9 M1419.75,1814.7v-9 M1441.00,1814.7v-9" stroke="#000" stroke-width="3.8" fill="none"/><path d="M187.25,41.5v-3.3 M208.50,41.5v-3.3 M229.75,41.5v-3.3 M251.00,41.5v-3.3 M272.25,41.5v-3.3 M293.50,41.5v-3.3 M314.75,41.5v-3.3 M336.00,41.5v-3.3 M357.25,41.5v-3.3 M378.50,41.5v-3.3 M399.75,41.5v-3.3 M421.00,41.5v-3.3 M442.25,41.5v-3.3 M463.50,41.5v-3.3 M484.75,41.5v-3.3 M506.00,41.5v-3.3 M527.25,41.5v-3.3 M548.50,41.5v-3.3 M569.75,41.5v-3.3 M591.00,41.5v-3.3 M612.25,41.5v-3.3 M633.50,41.5v-3.3 M654.75,41.5v-3.3 M676.00,41.5v-3.3 M697.25,41.5v-3.3 M718.50,41.5v-3.3 M739.75,41.5v-3.3 M761.00,41.5v-3.3 M782.25,41.5v-3.3 M803.50,41.5v-3.3 M824.75,41.5v-3.3 M846.00,41.5v-3.3 M867.25,41.5v-3.3 M888.50,41.5v-3.3 M909.75,41.5v-3.3 M931.00,41.5v-3.3 M952.25,41.5v-3.3 M973.50,41.5v-3.3 M994.75,41.5v-3.3 M1016.00,41.5v-3.3 M1037.25,41.5v-3.3 M1058.50,41.5v-3.3 M1079.75,41.5v-3.3 M1101.00,41.5v-3.3 M1122.25,41.5v-3.3 M1143.50,41.5v-3.3 M1164.75,41.5v-3.3 M1186.00,41.5v-3.3 M1207.25,41.5v-3.3 M1228.50,41.5v-3.3 M1249.75,41.5v-3.3 M1271.00,41.5v-3.3 M1292.25,41.5v-3.3 M1313.50,41.5v-3.3 M1334.75,41.5v-3.3 M1356.00,41.5v-3.3 M1377.25,41.5v-3.3 M1398.50,41.5v-3.3 M1419.75,41.5v-3.3 M1441.00,41.5v-3.3" stroke="#000" stroke-width="5" fill="none"/><line x1="163.8" y1="43.5" x2="1464.5" y2="43.5" stroke="#000" stroke-width="5"/><line x1="163.8" y1="487.2" x2="1464.5" y2="487.2" stroke="#000" stroke-width="5"/><line x1="163.8" y1="930.0" x2="1464.5" y2="930.0" stroke="#000" stroke-width="5"/><line x1="163.8" y1="1374.5" x2="1464.5" y2="1374.5" stroke="#000" stroke-width="5"/><line x1="163.8" y1="1816.7" x2="1464.5" y2="1816.7" stroke="#000" stroke-width="5"/><line x1="165.3" y1="38.2" x2="165.3" y2="1819.2" stroke="#000" stroke-width="4"/><line x1="1462.0" y1="38.2" x2="1462.0" y2="1819.2" stroke="#000" stroke-width="5.2"/></svg>
</body></html>
